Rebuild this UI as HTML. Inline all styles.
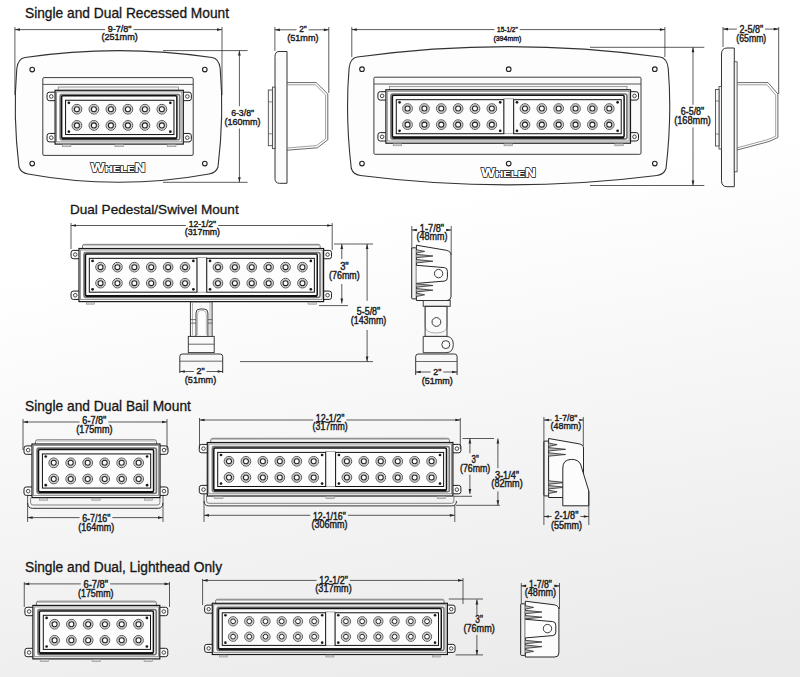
<!DOCTYPE html>
<html><head><meta charset="utf-8"><style>
html,body{margin:0;padding:0;width:800px;height:677px;overflow:hidden;background:#fff;}
</style></head><body>
<svg width="800" height="677" viewBox="0 0 800 677" style="position:absolute;left:0;top:0">
<defs><linearGradient id="bg" gradientUnits="userSpaceOnUse" x1="0" y1="280" x2="93" y2="780"><stop offset="0" stop-color="#ffffff"/><stop offset="1" stop-color="#eaeaea"/></linearGradient></defs>
<rect width="800" height="677" fill="url(#bg)"/>
<g font-family="Liberation Sans, sans-serif">
<text x="25" y="17.9" font-size="13.75" fill="#161616" stroke="#161616" stroke-width="0.3">Single and Dual Recessed Mount</text>
<text x="70" y="214.3" font-size="13.55" fill="#161616" stroke="#161616" stroke-width="0.3">Dual Pedestal/Swivel Mount</text>
<text x="25" y="410.7" font-size="13.76" fill="#161616" stroke="#161616" stroke-width="0.3">Single and Dual Bail Mount</text>
<text x="25" y="572.1" font-size="13.74" fill="#161616" stroke="#161616" stroke-width="0.3">Single and Dual, Lighthead Only</text>
<path d="M25,57.5 Q118.5,43.7 212,57.5 Q219,58.5 220.2,68.5 Q224.2,115.25 218,167 Q216,173 209,174 Q118.5,190.6 28,174 Q21,173 19,167 Q12.8,115.25 16.8,68.5 Q18,58.5 25,57.5 Z" fill="#fdfdfd" stroke="#333" stroke-width="1.1"/>
<circle cx="32.2" cy="69.6" r="2.3" fill="none" stroke="#222" stroke-width="1.1"/>
<circle cx="204.8" cy="69.6" r="2.3" fill="none" stroke="#222" stroke-width="1.1"/>
<circle cx="32.2" cy="163.6" r="2.3" fill="none" stroke="#222" stroke-width="1.1"/>
<circle cx="204.8" cy="163.6" r="2.3" fill="none" stroke="#222" stroke-width="1.1"/>
<rect x="42.8" y="77.6" width="150.4" height="77.8" rx="1.2" fill="#fbfbfb" stroke="#333" stroke-width="0.95"/>
<line x1="42.8" y1="84.4" x2="193.2" y2="84.4" stroke="#444" stroke-width="0.9"/>
<rect x="58.2" y="87" width="120.3" height="3.3" fill="#f4f4f4" stroke="#777" stroke-width="0.7"/>
<path d="M55.1,92.21 L49.37,92.21 Q47.06,92.21 47.06,94.52 L47.06,98.34 Q47.06,100.66 49.37,100.66 L55.1,100.66" fill="#fdfdfd" stroke="#1e1e1e" stroke-width="1"/>
<circle cx="51.28" cy="96.43" r="1.81" fill="none" stroke="#333" stroke-width="0.9"/>
<path d="M183.3,92.21 L189.03,92.21 Q191.34,92.21 191.34,94.52 L191.34,98.34 Q191.34,100.66 189.03,100.66 L183.3,100.66" fill="#fdfdfd" stroke="#1e1e1e" stroke-width="1"/>
<circle cx="187.32" cy="96.43" r="1.81" fill="none" stroke="#333" stroke-width="0.9"/>
<path d="M55.1,133.44 L49.37,133.44 Q47.06,133.44 47.06,135.75 L47.06,139.57 Q47.06,141.89 49.37,141.89 L55.1,141.89" fill="#fdfdfd" stroke="#1e1e1e" stroke-width="1"/>
<circle cx="51.28" cy="137.66" r="1.81" fill="none" stroke="#333" stroke-width="0.9"/>
<path d="M183.3,133.44 L189.03,133.44 Q191.34,133.44 191.34,135.75 L191.34,139.57 Q191.34,141.89 189.03,141.89 L183.3,141.89" fill="#fdfdfd" stroke="#1e1e1e" stroke-width="1"/>
<circle cx="187.32" cy="137.66" r="1.81" fill="none" stroke="#333" stroke-width="0.9"/>
<rect x="55.1" y="90.3" width="128.2" height="53.8" fill="#fcfcfc" stroke="#1a1a1a" stroke-width="1.2"/>
<rect x="56.51" y="91.81" width="125.38" height="50.08" fill="none" stroke="#8c8c8c" stroke-width="0.95"/>
<rect x="62.44" y="144.7" width="8.45" height="2.01" fill="#d2d2d2" stroke="#8a8a8a" stroke-width="0.6"/>
<rect x="114.98" y="144.7" width="8.45" height="2.01" fill="#d2d2d2" stroke="#8a8a8a" stroke-width="0.6"/>
<rect x="167.51" y="144.7" width="8.45" height="2.01" fill="#d2d2d2" stroke="#8a8a8a" stroke-width="0.6"/>
<rect x="60.23" y="94.52" width="119.45" height="45.25" rx="1.51" fill="none" stroke="#777" stroke-width="1.71"/>
<rect x="61.64" y="95.83" width="115.23" height="42.34" rx="1.21" fill="none" stroke="#141414" stroke-width="1.51"/>
<line x1="61.94" y1="138.47" x2="176.56" y2="138.47" stroke="#111" stroke-width="2.11"/>
<rect x="65.56" y="100.26" width="108.39" height="34.29" fill="#fdfdfd" stroke="#121212" stroke-width="1"/>
<circle cx="68.88" cy="102.87" r="1.36" fill="#1a1a1a" stroke="none" stroke-width="0"/>
<circle cx="68.88" cy="131.63" r="1.36" fill="#1a1a1a" stroke="none" stroke-width="0"/>
<circle cx="170.33" cy="102.87" r="1.36" fill="#1a1a1a" stroke="none" stroke-width="0"/>
<circle cx="170.33" cy="131.63" r="1.36" fill="#1a1a1a" stroke="none" stroke-width="0"/>
<circle cx="76.92" cy="109.21" r="4.88" fill="#fff" stroke="#363636" stroke-width="0.85"/>
<circle cx="76.92" cy="109.21" r="3.67" fill="none" stroke="#8a8a8a" stroke-width="0.6"/>
<circle cx="76.92" cy="109.21" r="2.51" fill="#fff" stroke="#202020" stroke-width="1.06"/>
<circle cx="93.91" cy="109.21" r="4.88" fill="#fff" stroke="#363636" stroke-width="0.85"/>
<circle cx="93.91" cy="109.21" r="3.67" fill="none" stroke="#8a8a8a" stroke-width="0.6"/>
<circle cx="93.91" cy="109.21" r="2.51" fill="#fff" stroke="#202020" stroke-width="1.06"/>
<circle cx="110.91" cy="109.21" r="4.88" fill="#fff" stroke="#363636" stroke-width="0.85"/>
<circle cx="110.91" cy="109.21" r="3.67" fill="none" stroke="#8a8a8a" stroke-width="0.6"/>
<circle cx="110.91" cy="109.21" r="2.51" fill="#fff" stroke="#202020" stroke-width="1.06"/>
<circle cx="127.9" cy="109.21" r="4.88" fill="#fff" stroke="#363636" stroke-width="0.85"/>
<circle cx="127.9" cy="109.21" r="3.67" fill="none" stroke="#8a8a8a" stroke-width="0.6"/>
<circle cx="127.9" cy="109.21" r="2.51" fill="#fff" stroke="#202020" stroke-width="1.06"/>
<circle cx="144.89" cy="109.21" r="4.88" fill="#fff" stroke="#363636" stroke-width="0.85"/>
<circle cx="144.89" cy="109.21" r="3.67" fill="none" stroke="#8a8a8a" stroke-width="0.6"/>
<circle cx="144.89" cy="109.21" r="2.51" fill="#fff" stroke="#202020" stroke-width="1.06"/>
<circle cx="161.88" cy="109.21" r="4.88" fill="#fff" stroke="#363636" stroke-width="0.85"/>
<circle cx="161.88" cy="109.21" r="3.67" fill="none" stroke="#8a8a8a" stroke-width="0.6"/>
<circle cx="161.88" cy="109.21" r="2.51" fill="#fff" stroke="#202020" stroke-width="1.06"/>
<circle cx="76.92" cy="125.4" r="4.88" fill="#fff" stroke="#363636" stroke-width="0.85"/>
<circle cx="76.92" cy="125.4" r="3.67" fill="none" stroke="#8a8a8a" stroke-width="0.6"/>
<circle cx="76.92" cy="125.4" r="2.51" fill="#fff" stroke="#202020" stroke-width="1.06"/>
<circle cx="93.91" cy="125.4" r="4.88" fill="#fff" stroke="#363636" stroke-width="0.85"/>
<circle cx="93.91" cy="125.4" r="3.67" fill="none" stroke="#8a8a8a" stroke-width="0.6"/>
<circle cx="93.91" cy="125.4" r="2.51" fill="#fff" stroke="#202020" stroke-width="1.06"/>
<circle cx="110.91" cy="125.4" r="4.88" fill="#fff" stroke="#363636" stroke-width="0.85"/>
<circle cx="110.91" cy="125.4" r="3.67" fill="none" stroke="#8a8a8a" stroke-width="0.6"/>
<circle cx="110.91" cy="125.4" r="2.51" fill="#fff" stroke="#202020" stroke-width="1.06"/>
<circle cx="127.9" cy="125.4" r="4.88" fill="#fff" stroke="#363636" stroke-width="0.85"/>
<circle cx="127.9" cy="125.4" r="3.67" fill="none" stroke="#8a8a8a" stroke-width="0.6"/>
<circle cx="127.9" cy="125.4" r="2.51" fill="#fff" stroke="#202020" stroke-width="1.06"/>
<circle cx="144.89" cy="125.4" r="4.88" fill="#fff" stroke="#363636" stroke-width="0.85"/>
<circle cx="144.89" cy="125.4" r="3.67" fill="none" stroke="#8a8a8a" stroke-width="0.6"/>
<circle cx="144.89" cy="125.4" r="2.51" fill="#fff" stroke="#202020" stroke-width="1.06"/>
<circle cx="161.88" cy="125.4" r="4.88" fill="#fff" stroke="#363636" stroke-width="0.85"/>
<circle cx="161.88" cy="125.4" r="3.67" fill="none" stroke="#8a8a8a" stroke-width="0.6"/>
<circle cx="161.88" cy="125.4" r="2.51" fill="#fff" stroke="#202020" stroke-width="1.06"/>
<text transform="translate(118.2,172) scale(1.22,1)" text-anchor="middle" font-weight="bold" fill="#fff" stroke="#111" stroke-width="1.5" letter-spacing="0.35" paint-order="stroke"><tspan font-size="12">W</tspan><tspan font-size="8.6" dy="-0.3">HELE</tspan><tspan font-size="12" dy="0.3">N</tspan></text>
<text transform="translate(118.2,172) scale(1.22,1)" text-anchor="middle" font-weight="bold" fill="#fff" stroke="none" letter-spacing="0.35"><tspan font-size="12">W</tspan><tspan font-size="8.6" dy="-0.3">HELE</tspan><tspan font-size="12" dy="0.3">N</tspan></text>
<line x1="14.9" y1="27" x2="14.9" y2="95" stroke="#262626" stroke-width="0.75"/>
<line x1="222" y1="27" x2="222" y2="95" stroke="#262626" stroke-width="0.75"/>
<line x1="14.9" y1="29.6" x2="222" y2="29.6" stroke="#262626" stroke-width="0.75"/>
<path d="M14.9,29.6 L19.9,28.25 L19.9,30.95 Z" fill="#262626"/>
<path d="M222,29.6 L217,28.25 L217,30.95 Z" fill="#262626"/>
<rect x="105.1" y="28.1" width="28.3" height="3" fill="url(#bg)"/>
<text transform="translate(119.6,32.4) scale(0.98,1)" text-anchor="middle" font-size="9.2" fill="#1c1c1c" stroke="#1c1c1c" stroke-width="0.42">9-7/8&quot;</text>
<text transform="translate(119.6,39.9) scale(0.99,1)" text-anchor="middle" font-size="9.2" fill="#1c1c1c" stroke="#1c1c1c" stroke-width="0.42">(251mm)</text>
<line x1="163" y1="50.6" x2="247.6" y2="50.6" stroke="#262626" stroke-width="0.75"/>
<line x1="163" y1="182.3" x2="247.6" y2="182.3" stroke="#262626" stroke-width="0.75"/>
<line x1="239.4" y1="50.6" x2="239.4" y2="182.3" stroke="#262626" stroke-width="0.75"/>
<path d="M239.4,50.6 L238.05,55.6 L240.75,55.6 Z" fill="#262626"/>
<path d="M239.4,182.3 L238.05,177.3 L240.75,177.3 Z" fill="#262626"/>
<rect x="237.9" y="106.24" width="3" height="22.26" fill="url(#bg)"/>
<text transform="translate(242.6,116.3) scale(0.89,1)" text-anchor="middle" font-size="9.8" fill="#1c1c1c" stroke="#1c1c1c" stroke-width="0.42">6-3/8&quot;</text>
<text transform="translate(242.6,125) scale(0.92,1)" text-anchor="middle" font-size="9.8" fill="#1c1c1c" stroke="#1c1c1c" stroke-width="0.42">(160mm)</text>
<path d="M287,51.5 L279,51.5 Q275,51.5 275,56.5 L275,178.5 Q275,183.3 279.5,183.3 L287,183.3 Z" fill="#fbfbfb" stroke="#333" stroke-width="1"/>
<rect x="272.4" y="87.1" width="2.6" height="61.5" fill="#f6f6f6" stroke="#444" stroke-width="0.85"/>
<rect x="268.3" y="90" width="4.1" height="55.7" fill="#f8f8f8" stroke="#444" stroke-width="0.85"/>
<line x1="268.3" y1="101.9" x2="272.4" y2="101.9" stroke="#555" stroke-width="0.7"/>
<line x1="268.3" y1="133.8" x2="272.4" y2="133.8" stroke="#555" stroke-width="0.7"/>
<path d="M287,82.6 L316.2,82.6 L327.8,94 L327.8,139.8 L317.3,147.8 L287,150.2" fill="none" stroke="#444" stroke-width="0.8"/>
<path d="M287,84.8 L315.3,84.8 L325.6,95 L325.6,138.8 L316.4,145.6 L287,148" fill="none" stroke="#777" stroke-width="0.7"/>
<line x1="274.9" y1="27" x2="274.9" y2="51" stroke="#262626" stroke-width="0.75"/>
<line x1="328.8" y1="27" x2="328.8" y2="93" stroke="#262626" stroke-width="0.75"/>
<line x1="274.9" y1="29.8" x2="328.8" y2="29.8" stroke="#262626" stroke-width="0.75"/>
<path d="M274.9,29.8 L279.9,28.45 L279.9,31.15 Z" fill="#262626"/>
<path d="M328.8,29.8 L323.8,28.45 L323.8,31.15 Z" fill="#262626"/>
<rect x="296.5" y="28.3" width="12.1" height="3" fill="url(#bg)"/>
<text transform="translate(302.9,32.1) scale(0.86,1)" text-anchor="middle" font-size="9.6" fill="#1c1c1c" stroke="#1c1c1c" stroke-width="0.42">2&quot;</text>
<text transform="translate(302.9,40.8) scale(0.95,1)" text-anchor="middle" font-size="9.6" fill="#1c1c1c" stroke="#1c1c1c" stroke-width="0.42">(51mm)</text>
<path d="M357.3,57 Q508.65,36.2 660,57 Q667,58 668.2,68 Q672.2,115.75 666,168.5 Q664,174.5 657,175.5 Q508.65,194.3 360.3,175.5 Q353.3,174.5 351.3,168.5 Q345.1,115.75 349.1,68 Q350.3,58 357.3,57 Z" fill="#fdfdfd" stroke="#333" stroke-width="1.1"/>
<circle cx="362" cy="69.2" r="2.3" fill="none" stroke="#222" stroke-width="1.1"/>
<circle cx="508.7" cy="69.2" r="2.3" fill="none" stroke="#222" stroke-width="1.1"/>
<circle cx="654.8" cy="69.2" r="2.3" fill="none" stroke="#222" stroke-width="1.1"/>
<circle cx="362" cy="163.6" r="2.3" fill="none" stroke="#222" stroke-width="1.1"/>
<circle cx="508.7" cy="163.6" r="2.3" fill="none" stroke="#222" stroke-width="1.1"/>
<circle cx="654.8" cy="163.6" r="2.3" fill="none" stroke="#222" stroke-width="1.1"/>
<rect x="373.9" y="77.2" width="267.1" height="77.1" rx="1.2" fill="#fbfbfb" stroke="#333" stroke-width="0.95"/>
<line x1="373.9" y1="84" x2="641" y2="84" stroke="#444" stroke-width="0.9"/>
<rect x="389.5" y="86.3" width="237.5" height="3.5" fill="#f4f4f4" stroke="#777" stroke-width="0.7"/>
<path d="M385.9,91.7 L380.21,91.7 Q377.91,91.7 377.91,93.99 L377.91,97.79 Q377.91,100.08 380.21,100.08 L385.9,100.08" fill="#fdfdfd" stroke="#1e1e1e" stroke-width="1"/>
<circle cx="382.11" cy="95.89" r="1.8" fill="none" stroke="#333" stroke-width="0.9"/>
<path d="M630.5,91.7 L636.19,91.7 Q638.49,91.7 638.49,93.99 L638.49,97.79 Q638.49,100.08 636.19,100.08 L630.5,100.08" fill="#fdfdfd" stroke="#1e1e1e" stroke-width="1"/>
<circle cx="634.49" cy="95.89" r="1.8" fill="none" stroke="#333" stroke-width="0.9"/>
<path d="M385.9,132.62 L380.21,132.62 Q377.91,132.62 377.91,134.92 L377.91,138.71 Q377.91,141 380.21,141 L385.9,141" fill="#fdfdfd" stroke="#1e1e1e" stroke-width="1"/>
<circle cx="382.11" cy="136.81" r="1.8" fill="none" stroke="#333" stroke-width="0.9"/>
<path d="M630.5,132.62 L636.19,132.62 Q638.49,132.62 638.49,134.92 L638.49,138.71 Q638.49,141 636.19,141 L630.5,141" fill="#fdfdfd" stroke="#1e1e1e" stroke-width="1"/>
<circle cx="634.49" cy="136.81" r="1.8" fill="none" stroke="#333" stroke-width="0.9"/>
<rect x="385.9" y="89.8" width="244.6" height="53.4" fill="#fcfcfc" stroke="#1a1a1a" stroke-width="1.2"/>
<rect x="387.3" y="91.3" width="241.81" height="49.71" fill="none" stroke="#8c8c8c" stroke-width="0.95"/>
<rect x="393.19" y="143.8" width="8.38" height="2" fill="#d2d2d2" stroke="#8a8a8a" stroke-width="0.6"/>
<rect x="504.01" y="143.8" width="8.38" height="2" fill="#d2d2d2" stroke="#8a8a8a" stroke-width="0.6"/>
<rect x="614.83" y="143.8" width="8.38" height="2" fill="#d2d2d2" stroke="#8a8a8a" stroke-width="0.6"/>
<rect x="390.99" y="93.99" width="235.92" height="44.92" rx="1.5" fill="none" stroke="#777" stroke-width="1.7"/>
<rect x="392.39" y="95.29" width="231.72" height="42.02" rx="1.2" fill="none" stroke="#141414" stroke-width="1.5"/>
<line x1="392.69" y1="137.61" x2="623.81" y2="137.61" stroke="#111" stroke-width="2.1"/>
<rect x="503.81" y="98.78" width="9.88" height="34.93" fill="#fbfbfb" stroke="#888" stroke-width="0.7"/>
<rect x="396.28" y="99.68" width="107.53" height="34.04" fill="#fdfdfd" stroke="#121212" stroke-width="1"/>
<circle cx="399.57" cy="102.28" r="1.35" fill="#1a1a1a" stroke="none" stroke-width="0"/>
<circle cx="399.57" cy="130.82" r="1.35" fill="#1a1a1a" stroke="none" stroke-width="0"/>
<circle cx="500.21" cy="102.28" r="1.35" fill="#1a1a1a" stroke="none" stroke-width="0"/>
<circle cx="500.21" cy="130.82" r="1.35" fill="#1a1a1a" stroke="none" stroke-width="0"/>
<circle cx="407.56" cy="108.56" r="4.84" fill="#fff" stroke="#363636" stroke-width="0.85"/>
<circle cx="407.56" cy="108.56" r="3.64" fill="none" stroke="#8a8a8a" stroke-width="0.6"/>
<circle cx="407.56" cy="108.56" r="2.5" fill="#fff" stroke="#202020" stroke-width="1.05"/>
<circle cx="424.41" cy="108.56" r="4.84" fill="#fff" stroke="#363636" stroke-width="0.85"/>
<circle cx="424.41" cy="108.56" r="3.64" fill="none" stroke="#8a8a8a" stroke-width="0.6"/>
<circle cx="424.41" cy="108.56" r="2.5" fill="#fff" stroke="#202020" stroke-width="1.05"/>
<circle cx="441.27" cy="108.56" r="4.84" fill="#fff" stroke="#363636" stroke-width="0.85"/>
<circle cx="441.27" cy="108.56" r="3.64" fill="none" stroke="#8a8a8a" stroke-width="0.6"/>
<circle cx="441.27" cy="108.56" r="2.5" fill="#fff" stroke="#202020" stroke-width="1.05"/>
<circle cx="458.12" cy="108.56" r="4.84" fill="#fff" stroke="#363636" stroke-width="0.85"/>
<circle cx="458.12" cy="108.56" r="3.64" fill="none" stroke="#8a8a8a" stroke-width="0.6"/>
<circle cx="458.12" cy="108.56" r="2.5" fill="#fff" stroke="#202020" stroke-width="1.05"/>
<circle cx="474.98" cy="108.56" r="4.84" fill="#fff" stroke="#363636" stroke-width="0.85"/>
<circle cx="474.98" cy="108.56" r="3.64" fill="none" stroke="#8a8a8a" stroke-width="0.6"/>
<circle cx="474.98" cy="108.56" r="2.5" fill="#fff" stroke="#202020" stroke-width="1.05"/>
<circle cx="491.83" cy="108.56" r="4.84" fill="#fff" stroke="#363636" stroke-width="0.85"/>
<circle cx="491.83" cy="108.56" r="3.64" fill="none" stroke="#8a8a8a" stroke-width="0.6"/>
<circle cx="491.83" cy="108.56" r="2.5" fill="#fff" stroke="#202020" stroke-width="1.05"/>
<circle cx="407.56" cy="124.63" r="4.84" fill="#fff" stroke="#363636" stroke-width="0.85"/>
<circle cx="407.56" cy="124.63" r="3.64" fill="none" stroke="#8a8a8a" stroke-width="0.6"/>
<circle cx="407.56" cy="124.63" r="2.5" fill="#fff" stroke="#202020" stroke-width="1.05"/>
<circle cx="424.41" cy="124.63" r="4.84" fill="#fff" stroke="#363636" stroke-width="0.85"/>
<circle cx="424.41" cy="124.63" r="3.64" fill="none" stroke="#8a8a8a" stroke-width="0.6"/>
<circle cx="424.41" cy="124.63" r="2.5" fill="#fff" stroke="#202020" stroke-width="1.05"/>
<circle cx="441.27" cy="124.63" r="4.84" fill="#fff" stroke="#363636" stroke-width="0.85"/>
<circle cx="441.27" cy="124.63" r="3.64" fill="none" stroke="#8a8a8a" stroke-width="0.6"/>
<circle cx="441.27" cy="124.63" r="2.5" fill="#fff" stroke="#202020" stroke-width="1.05"/>
<circle cx="458.12" cy="124.63" r="4.84" fill="#fff" stroke="#363636" stroke-width="0.85"/>
<circle cx="458.12" cy="124.63" r="3.64" fill="none" stroke="#8a8a8a" stroke-width="0.6"/>
<circle cx="458.12" cy="124.63" r="2.5" fill="#fff" stroke="#202020" stroke-width="1.05"/>
<circle cx="474.98" cy="124.63" r="4.84" fill="#fff" stroke="#363636" stroke-width="0.85"/>
<circle cx="474.98" cy="124.63" r="3.64" fill="none" stroke="#8a8a8a" stroke-width="0.6"/>
<circle cx="474.98" cy="124.63" r="2.5" fill="#fff" stroke="#202020" stroke-width="1.05"/>
<circle cx="491.83" cy="124.63" r="4.84" fill="#fff" stroke="#363636" stroke-width="0.85"/>
<circle cx="491.83" cy="124.63" r="3.64" fill="none" stroke="#8a8a8a" stroke-width="0.6"/>
<circle cx="491.83" cy="124.63" r="2.5" fill="#fff" stroke="#202020" stroke-width="1.05"/>
<rect x="513.69" y="99.68" width="107.53" height="34.04" fill="#fdfdfd" stroke="#121212" stroke-width="1"/>
<circle cx="516.98" cy="102.28" r="1.35" fill="#1a1a1a" stroke="none" stroke-width="0"/>
<circle cx="516.98" cy="130.82" r="1.35" fill="#1a1a1a" stroke="none" stroke-width="0"/>
<circle cx="617.62" cy="102.28" r="1.35" fill="#1a1a1a" stroke="none" stroke-width="0"/>
<circle cx="617.62" cy="130.82" r="1.35" fill="#1a1a1a" stroke="none" stroke-width="0"/>
<circle cx="524.97" cy="108.56" r="4.84" fill="#fff" stroke="#363636" stroke-width="0.85"/>
<circle cx="524.97" cy="108.56" r="3.64" fill="none" stroke="#8a8a8a" stroke-width="0.6"/>
<circle cx="524.97" cy="108.56" r="2.5" fill="#fff" stroke="#202020" stroke-width="1.05"/>
<circle cx="541.82" cy="108.56" r="4.84" fill="#fff" stroke="#363636" stroke-width="0.85"/>
<circle cx="541.82" cy="108.56" r="3.64" fill="none" stroke="#8a8a8a" stroke-width="0.6"/>
<circle cx="541.82" cy="108.56" r="2.5" fill="#fff" stroke="#202020" stroke-width="1.05"/>
<circle cx="558.68" cy="108.56" r="4.84" fill="#fff" stroke="#363636" stroke-width="0.85"/>
<circle cx="558.68" cy="108.56" r="3.64" fill="none" stroke="#8a8a8a" stroke-width="0.6"/>
<circle cx="558.68" cy="108.56" r="2.5" fill="#fff" stroke="#202020" stroke-width="1.05"/>
<circle cx="575.53" cy="108.56" r="4.84" fill="#fff" stroke="#363636" stroke-width="0.85"/>
<circle cx="575.53" cy="108.56" r="3.64" fill="none" stroke="#8a8a8a" stroke-width="0.6"/>
<circle cx="575.53" cy="108.56" r="2.5" fill="#fff" stroke="#202020" stroke-width="1.05"/>
<circle cx="592.39" cy="108.56" r="4.84" fill="#fff" stroke="#363636" stroke-width="0.85"/>
<circle cx="592.39" cy="108.56" r="3.64" fill="none" stroke="#8a8a8a" stroke-width="0.6"/>
<circle cx="592.39" cy="108.56" r="2.5" fill="#fff" stroke="#202020" stroke-width="1.05"/>
<circle cx="609.24" cy="108.56" r="4.84" fill="#fff" stroke="#363636" stroke-width="0.85"/>
<circle cx="609.24" cy="108.56" r="3.64" fill="none" stroke="#8a8a8a" stroke-width="0.6"/>
<circle cx="609.24" cy="108.56" r="2.5" fill="#fff" stroke="#202020" stroke-width="1.05"/>
<circle cx="524.97" cy="124.63" r="4.84" fill="#fff" stroke="#363636" stroke-width="0.85"/>
<circle cx="524.97" cy="124.63" r="3.64" fill="none" stroke="#8a8a8a" stroke-width="0.6"/>
<circle cx="524.97" cy="124.63" r="2.5" fill="#fff" stroke="#202020" stroke-width="1.05"/>
<circle cx="541.82" cy="124.63" r="4.84" fill="#fff" stroke="#363636" stroke-width="0.85"/>
<circle cx="541.82" cy="124.63" r="3.64" fill="none" stroke="#8a8a8a" stroke-width="0.6"/>
<circle cx="541.82" cy="124.63" r="2.5" fill="#fff" stroke="#202020" stroke-width="1.05"/>
<circle cx="558.68" cy="124.63" r="4.84" fill="#fff" stroke="#363636" stroke-width="0.85"/>
<circle cx="558.68" cy="124.63" r="3.64" fill="none" stroke="#8a8a8a" stroke-width="0.6"/>
<circle cx="558.68" cy="124.63" r="2.5" fill="#fff" stroke="#202020" stroke-width="1.05"/>
<circle cx="575.53" cy="124.63" r="4.84" fill="#fff" stroke="#363636" stroke-width="0.85"/>
<circle cx="575.53" cy="124.63" r="3.64" fill="none" stroke="#8a8a8a" stroke-width="0.6"/>
<circle cx="575.53" cy="124.63" r="2.5" fill="#fff" stroke="#202020" stroke-width="1.05"/>
<circle cx="592.39" cy="124.63" r="4.84" fill="#fff" stroke="#363636" stroke-width="0.85"/>
<circle cx="592.39" cy="124.63" r="3.64" fill="none" stroke="#8a8a8a" stroke-width="0.6"/>
<circle cx="592.39" cy="124.63" r="2.5" fill="#fff" stroke="#202020" stroke-width="1.05"/>
<circle cx="609.24" cy="124.63" r="4.84" fill="#fff" stroke="#363636" stroke-width="0.85"/>
<circle cx="609.24" cy="124.63" r="3.64" fill="none" stroke="#8a8a8a" stroke-width="0.6"/>
<circle cx="609.24" cy="124.63" r="2.5" fill="#fff" stroke="#202020" stroke-width="1.05"/>
<text transform="translate(508.7,176.8) scale(1.22,1)" text-anchor="middle" font-weight="bold" fill="#fff" stroke="#111" stroke-width="1.5" letter-spacing="0.35" paint-order="stroke"><tspan font-size="12">W</tspan><tspan font-size="8.6" dy="-0.3">HELE</tspan><tspan font-size="12" dy="0.3">N</tspan></text>
<text transform="translate(508.7,176.8) scale(1.22,1)" text-anchor="middle" font-weight="bold" fill="#fff" stroke="none" letter-spacing="0.35"><tspan font-size="12">W</tspan><tspan font-size="8.6" dy="-0.3">HELE</tspan><tspan font-size="12" dy="0.3">N</tspan></text>
<line x1="351.8" y1="27" x2="351.8" y2="57" stroke="#262626" stroke-width="0.75"/>
<line x1="664.9" y1="27" x2="664.9" y2="57" stroke="#262626" stroke-width="0.75"/>
<line x1="351.8" y1="29.6" x2="664.9" y2="29.6" stroke="#262626" stroke-width="0.75"/>
<path d="M351.8,29.6 L356.8,28.25 L356.8,30.95 Z" fill="#262626"/>
<path d="M664.9,29.6 L659.9,28.25 L659.9,30.95 Z" fill="#262626"/>
<rect x="494.4" y="28.1" width="25.3" height="3" fill="url(#bg)"/>
<text transform="translate(507.4,32.4) scale(0.83,1)" text-anchor="middle" font-size="7.8" fill="#1c1c1c" stroke="#1c1c1c" stroke-width="0.42">15-1/2&quot;</text>
<text transform="translate(507.4,41.4) scale(0.9,1)" text-anchor="middle" font-size="7.8" fill="#1c1c1c" stroke="#1c1c1c" stroke-width="0.42">(394mm)</text>
<line x1="590" y1="47.3" x2="704.3" y2="47.3" stroke="#262626" stroke-width="0.75"/>
<line x1="590" y1="185.5" x2="704.3" y2="185.5" stroke="#262626" stroke-width="0.75"/>
<line x1="693" y1="47.3" x2="693" y2="185.5" stroke="#262626" stroke-width="0.75"/>
<path d="M693,47.3 L691.65,52.3 L694.35,52.3 Z" fill="#262626"/>
<path d="M693,185.5 L691.65,180.5 L694.35,180.5 Z" fill="#262626"/>
<rect x="691.5" y="104.8" width="3" height="22.6" fill="url(#bg)"/>
<text transform="translate(692.5,115) scale(0.89,1)" text-anchor="middle" font-size="10" fill="#1c1c1c" stroke="#1c1c1c" stroke-width="0.42">6-5/8&quot;</text>
<text transform="translate(692.5,123.9) scale(0.92,1)" text-anchor="middle" font-size="10" fill="#1c1c1c" stroke="#1c1c1c" stroke-width="0.42">(168mm)</text>
<path d="M734.3,48 L727,48 Q721.5,48 721.5,54 L721.5,180.5 Q721.5,186.7 727,186.7 L734.3,186.7 Z" fill="#fbfbfb" stroke="#333" stroke-width="1"/>
<rect x="734.3" y="61.8" width="2.8" height="110" fill="#f6f6f6" stroke="#444" stroke-width="0.85"/>
<rect x="719" y="86.5" width="2.5" height="62.5" fill="#f6f6f6" stroke="#444" stroke-width="0.85"/>
<rect x="715.5" y="89.5" width="3.5" height="56.5" fill="#f8f8f8" stroke="#444" stroke-width="0.85"/>
<line x1="715.5" y1="101" x2="719" y2="101" stroke="#555" stroke-width="0.7"/>
<line x1="715.5" y1="134" x2="719" y2="134" stroke="#555" stroke-width="0.7"/>
<path d="M737.1,82.6 L768,82.6 L777.9,94 L777.9,137.5 L769,141.5 L737.1,150" fill="none" stroke="#444" stroke-width="0.8"/>
<path d="M737.1,84.8 L767,84.8 L775.7,95 L775.7,136.3 L768,139.5 L737.1,147.8" fill="none" stroke="#777" stroke-width="0.7"/>
<line x1="723" y1="27" x2="723" y2="47" stroke="#262626" stroke-width="0.75"/>
<line x1="778.7" y1="27" x2="778.7" y2="94" stroke="#262626" stroke-width="0.75"/>
<line x1="723" y1="29.1" x2="778.7" y2="29.1" stroke="#262626" stroke-width="0.75"/>
<path d="M723,29.1 L728,27.75 L728,30.45 Z" fill="#262626"/>
<path d="M778.7,29.1 L773.7,27.75 L773.7,30.45 Z" fill="#262626"/>
<rect x="736.85" y="27.6" width="28.2" height="3" fill="url(#bg)"/>
<text transform="translate(751.3,33.3) scale(0.9,1)" text-anchor="middle" font-size="10" fill="#1c1c1c" stroke="#1c1c1c" stroke-width="0.42">2-5/8&quot;</text>
<text transform="translate(751.3,42.2) scale(0.87,1)" text-anchor="middle" font-size="10" fill="#1c1c1c" stroke="#1c1c1c" stroke-width="0.42">(65mm)</text>
<path d="M82.47,248.5 L82.47,246.12 Q82.47,244.33 84.46,244.33 L318.14,244.33 Q320.13,244.33 320.13,246.12 L320.13,248.5" fill="#fdfdfd" stroke="#555" stroke-width="0.8"/>
<line x1="83.27" y1="245.62" x2="319.33" y2="245.62" stroke="#a0a0a0" stroke-width="0.7"/>
<path d="M79,250.39 L73.34,250.39 Q71.06,250.39 71.06,252.67 L71.06,256.44 Q71.06,258.72 73.34,258.72 L79,258.72" fill="#fdfdfd" stroke="#1e1e1e" stroke-width="1"/>
<circle cx="75.23" cy="254.55" r="1.79" fill="none" stroke="#333" stroke-width="0.9"/>
<path d="M323.6,250.39 L329.26,250.39 Q331.54,250.39 331.54,252.67 L331.54,256.44 Q331.54,258.72 329.26,258.72 L323.6,258.72" fill="#fdfdfd" stroke="#1e1e1e" stroke-width="1"/>
<circle cx="327.57" cy="254.55" r="1.79" fill="none" stroke="#333" stroke-width="0.9"/>
<path d="M79,291.08 L73.34,291.08 Q71.06,291.08 71.06,293.36 L71.06,297.13 Q71.06,299.42 73.34,299.42 L79,299.42" fill="#fdfdfd" stroke="#1e1e1e" stroke-width="1"/>
<circle cx="75.23" cy="295.25" r="1.79" fill="none" stroke="#333" stroke-width="0.9"/>
<path d="M323.6,291.08 L329.26,291.08 Q331.54,291.08 331.54,293.36 L331.54,297.13 Q331.54,299.42 329.26,299.42 L323.6,299.42" fill="#fdfdfd" stroke="#1e1e1e" stroke-width="1"/>
<circle cx="327.57" cy="295.25" r="1.79" fill="none" stroke="#333" stroke-width="0.9"/>
<rect x="79" y="248.5" width="244.6" height="53.1" fill="#fcfcfc" stroke="#1a1a1a" stroke-width="1.2"/>
<rect x="80.39" y="249.99" width="241.82" height="49.43" fill="none" stroke="#8c8c8c" stroke-width="0.95"/>
<rect x="86.25" y="302.2" width="8.34" height="1.98" fill="#d2d2d2" stroke="#8a8a8a" stroke-width="0.6"/>
<rect x="197.13" y="302.2" width="8.34" height="1.98" fill="#d2d2d2" stroke="#8a8a8a" stroke-width="0.6"/>
<rect x="308.02" y="302.2" width="8.34" height="1.98" fill="#d2d2d2" stroke="#8a8a8a" stroke-width="0.6"/>
<rect x="84.06" y="252.67" width="235.97" height="44.66" rx="1.49" fill="none" stroke="#777" stroke-width="1.69"/>
<rect x="85.45" y="253.96" width="231.8" height="41.79" rx="1.19" fill="none" stroke="#141414" stroke-width="1.49"/>
<line x1="85.75" y1="296.04" x2="316.95" y2="296.04" stroke="#111" stroke-width="2.08"/>
<rect x="196.93" y="257.43" width="9.83" height="34.74" fill="#fbfbfb" stroke="#888" stroke-width="0.7"/>
<rect x="89.32" y="258.33" width="107.61" height="33.85" fill="#fdfdfd" stroke="#121212" stroke-width="1"/>
<circle cx="92.6" cy="260.91" r="1.34" fill="#1a1a1a" stroke="none" stroke-width="0"/>
<circle cx="92.6" cy="289.29" r="1.34" fill="#1a1a1a" stroke="none" stroke-width="0"/>
<circle cx="193.36" cy="260.91" r="1.34" fill="#1a1a1a" stroke="none" stroke-width="0"/>
<circle cx="193.36" cy="289.29" r="1.34" fill="#1a1a1a" stroke="none" stroke-width="0"/>
<circle cx="100.54" cy="267.16" r="4.81" fill="#fff" stroke="#363636" stroke-width="0.84"/>
<circle cx="100.54" cy="267.16" r="3.62" fill="none" stroke="#8a8a8a" stroke-width="0.6"/>
<circle cx="100.54" cy="267.16" r="2.48" fill="#fff" stroke="#202020" stroke-width="1.04"/>
<circle cx="117.43" cy="267.16" r="4.81" fill="#fff" stroke="#363636" stroke-width="0.84"/>
<circle cx="117.43" cy="267.16" r="3.62" fill="none" stroke="#8a8a8a" stroke-width="0.6"/>
<circle cx="117.43" cy="267.16" r="2.48" fill="#fff" stroke="#202020" stroke-width="1.04"/>
<circle cx="134.33" cy="267.16" r="4.81" fill="#fff" stroke="#363636" stroke-width="0.84"/>
<circle cx="134.33" cy="267.16" r="3.62" fill="none" stroke="#8a8a8a" stroke-width="0.6"/>
<circle cx="134.33" cy="267.16" r="2.48" fill="#fff" stroke="#202020" stroke-width="1.04"/>
<circle cx="151.23" cy="267.16" r="4.81" fill="#fff" stroke="#363636" stroke-width="0.84"/>
<circle cx="151.23" cy="267.16" r="3.62" fill="none" stroke="#8a8a8a" stroke-width="0.6"/>
<circle cx="151.23" cy="267.16" r="2.48" fill="#fff" stroke="#202020" stroke-width="1.04"/>
<circle cx="168.13" cy="267.16" r="4.81" fill="#fff" stroke="#363636" stroke-width="0.84"/>
<circle cx="168.13" cy="267.16" r="3.62" fill="none" stroke="#8a8a8a" stroke-width="0.6"/>
<circle cx="168.13" cy="267.16" r="2.48" fill="#fff" stroke="#202020" stroke-width="1.04"/>
<circle cx="185.02" cy="267.16" r="4.81" fill="#fff" stroke="#363636" stroke-width="0.84"/>
<circle cx="185.02" cy="267.16" r="3.62" fill="none" stroke="#8a8a8a" stroke-width="0.6"/>
<circle cx="185.02" cy="267.16" r="2.48" fill="#fff" stroke="#202020" stroke-width="1.04"/>
<circle cx="100.54" cy="283.14" r="4.81" fill="#fff" stroke="#363636" stroke-width="0.84"/>
<circle cx="100.54" cy="283.14" r="3.62" fill="none" stroke="#8a8a8a" stroke-width="0.6"/>
<circle cx="100.54" cy="283.14" r="2.48" fill="#fff" stroke="#202020" stroke-width="1.04"/>
<circle cx="117.43" cy="283.14" r="4.81" fill="#fff" stroke="#363636" stroke-width="0.84"/>
<circle cx="117.43" cy="283.14" r="3.62" fill="none" stroke="#8a8a8a" stroke-width="0.6"/>
<circle cx="117.43" cy="283.14" r="2.48" fill="#fff" stroke="#202020" stroke-width="1.04"/>
<circle cx="134.33" cy="283.14" r="4.81" fill="#fff" stroke="#363636" stroke-width="0.84"/>
<circle cx="134.33" cy="283.14" r="3.62" fill="none" stroke="#8a8a8a" stroke-width="0.6"/>
<circle cx="134.33" cy="283.14" r="2.48" fill="#fff" stroke="#202020" stroke-width="1.04"/>
<circle cx="151.23" cy="283.14" r="4.81" fill="#fff" stroke="#363636" stroke-width="0.84"/>
<circle cx="151.23" cy="283.14" r="3.62" fill="none" stroke="#8a8a8a" stroke-width="0.6"/>
<circle cx="151.23" cy="283.14" r="2.48" fill="#fff" stroke="#202020" stroke-width="1.04"/>
<circle cx="168.13" cy="283.14" r="4.81" fill="#fff" stroke="#363636" stroke-width="0.84"/>
<circle cx="168.13" cy="283.14" r="3.62" fill="none" stroke="#8a8a8a" stroke-width="0.6"/>
<circle cx="168.13" cy="283.14" r="2.48" fill="#fff" stroke="#202020" stroke-width="1.04"/>
<circle cx="185.02" cy="283.14" r="4.81" fill="#fff" stroke="#363636" stroke-width="0.84"/>
<circle cx="185.02" cy="283.14" r="3.62" fill="none" stroke="#8a8a8a" stroke-width="0.6"/>
<circle cx="185.02" cy="283.14" r="2.48" fill="#fff" stroke="#202020" stroke-width="1.04"/>
<rect x="206.76" y="258.33" width="107.61" height="33.85" fill="#fdfdfd" stroke="#121212" stroke-width="1"/>
<circle cx="210.03" cy="260.91" r="1.34" fill="#1a1a1a" stroke="none" stroke-width="0"/>
<circle cx="210.03" cy="289.29" r="1.34" fill="#1a1a1a" stroke="none" stroke-width="0"/>
<circle cx="310.8" cy="260.91" r="1.34" fill="#1a1a1a" stroke="none" stroke-width="0"/>
<circle cx="310.8" cy="289.29" r="1.34" fill="#1a1a1a" stroke="none" stroke-width="0"/>
<circle cx="217.97" cy="267.16" r="4.81" fill="#fff" stroke="#363636" stroke-width="0.84"/>
<circle cx="217.97" cy="267.16" r="3.62" fill="none" stroke="#8a8a8a" stroke-width="0.6"/>
<circle cx="217.97" cy="267.16" r="2.48" fill="#fff" stroke="#202020" stroke-width="1.04"/>
<circle cx="234.87" cy="267.16" r="4.81" fill="#fff" stroke="#363636" stroke-width="0.84"/>
<circle cx="234.87" cy="267.16" r="3.62" fill="none" stroke="#8a8a8a" stroke-width="0.6"/>
<circle cx="234.87" cy="267.16" r="2.48" fill="#fff" stroke="#202020" stroke-width="1.04"/>
<circle cx="251.77" cy="267.16" r="4.81" fill="#fff" stroke="#363636" stroke-width="0.84"/>
<circle cx="251.77" cy="267.16" r="3.62" fill="none" stroke="#8a8a8a" stroke-width="0.6"/>
<circle cx="251.77" cy="267.16" r="2.48" fill="#fff" stroke="#202020" stroke-width="1.04"/>
<circle cx="268.67" cy="267.16" r="4.81" fill="#fff" stroke="#363636" stroke-width="0.84"/>
<circle cx="268.67" cy="267.16" r="3.62" fill="none" stroke="#8a8a8a" stroke-width="0.6"/>
<circle cx="268.67" cy="267.16" r="2.48" fill="#fff" stroke="#202020" stroke-width="1.04"/>
<circle cx="285.56" cy="267.16" r="4.81" fill="#fff" stroke="#363636" stroke-width="0.84"/>
<circle cx="285.56" cy="267.16" r="3.62" fill="none" stroke="#8a8a8a" stroke-width="0.6"/>
<circle cx="285.56" cy="267.16" r="2.48" fill="#fff" stroke="#202020" stroke-width="1.04"/>
<circle cx="302.46" cy="267.16" r="4.81" fill="#fff" stroke="#363636" stroke-width="0.84"/>
<circle cx="302.46" cy="267.16" r="3.62" fill="none" stroke="#8a8a8a" stroke-width="0.6"/>
<circle cx="302.46" cy="267.16" r="2.48" fill="#fff" stroke="#202020" stroke-width="1.04"/>
<circle cx="217.97" cy="283.14" r="4.81" fill="#fff" stroke="#363636" stroke-width="0.84"/>
<circle cx="217.97" cy="283.14" r="3.62" fill="none" stroke="#8a8a8a" stroke-width="0.6"/>
<circle cx="217.97" cy="283.14" r="2.48" fill="#fff" stroke="#202020" stroke-width="1.04"/>
<circle cx="234.87" cy="283.14" r="4.81" fill="#fff" stroke="#363636" stroke-width="0.84"/>
<circle cx="234.87" cy="283.14" r="3.62" fill="none" stroke="#8a8a8a" stroke-width="0.6"/>
<circle cx="234.87" cy="283.14" r="2.48" fill="#fff" stroke="#202020" stroke-width="1.04"/>
<circle cx="251.77" cy="283.14" r="4.81" fill="#fff" stroke="#363636" stroke-width="0.84"/>
<circle cx="251.77" cy="283.14" r="3.62" fill="none" stroke="#8a8a8a" stroke-width="0.6"/>
<circle cx="251.77" cy="283.14" r="2.48" fill="#fff" stroke="#202020" stroke-width="1.04"/>
<circle cx="268.67" cy="283.14" r="4.81" fill="#fff" stroke="#363636" stroke-width="0.84"/>
<circle cx="268.67" cy="283.14" r="3.62" fill="none" stroke="#8a8a8a" stroke-width="0.6"/>
<circle cx="268.67" cy="283.14" r="2.48" fill="#fff" stroke="#202020" stroke-width="1.04"/>
<circle cx="285.56" cy="283.14" r="4.81" fill="#fff" stroke="#363636" stroke-width="0.84"/>
<circle cx="285.56" cy="283.14" r="3.62" fill="none" stroke="#8a8a8a" stroke-width="0.6"/>
<circle cx="285.56" cy="283.14" r="2.48" fill="#fff" stroke="#202020" stroke-width="1.04"/>
<circle cx="302.46" cy="283.14" r="4.81" fill="#fff" stroke="#363636" stroke-width="0.84"/>
<circle cx="302.46" cy="283.14" r="3.62" fill="none" stroke="#8a8a8a" stroke-width="0.6"/>
<circle cx="302.46" cy="283.14" r="2.48" fill="#fff" stroke="#202020" stroke-width="1.04"/>
<rect x="190.4" y="302" width="21.7" height="34.4" fill="#fafafa" stroke="#333" stroke-width="0.95"/>
<line x1="192.5" y1="303" x2="192.5" y2="335" stroke="#888" stroke-width="0.6"/>
<line x1="210" y1="303" x2="210" y2="335" stroke="#888" stroke-width="0.6"/>
<path d="M196,336 L196,313 Q196,309 200,309 L204,309 Q207.9,309 207.9,313 L207.9,336" fill="#fff" stroke="#333" stroke-width="0.95"/>
<path d="M197.6,335 L197.6,314 Q197.6,310.6 200.6,310.6 L203.3,310.6 Q206.3,310.6 206.3,314 L206.3,335" fill="none" stroke="#888" stroke-width="0.6"/>
<line x1="190.4" y1="319.6" x2="196" y2="319.6" stroke="#444" stroke-width="0.7"/>
<line x1="207.9" y1="319.6" x2="212.1" y2="319.6" stroke="#444" stroke-width="0.7"/>
<line x1="190.4" y1="323.1" x2="196" y2="323.1" stroke="#444" stroke-width="0.7"/>
<line x1="207.9" y1="323.1" x2="212.1" y2="323.1" stroke="#444" stroke-width="0.7"/>
<rect x="188.3" y="336.4" width="25.9" height="16.2" fill="#fafafa" stroke="#333" stroke-width="0.95"/>
<line x1="188.3" y1="344.2" x2="214.2" y2="344.2" stroke="#444" stroke-width="0.8"/>
<path d="M179.8,373 L179.8,356.5 Q179.8,354 182.3,354 L220.2,354 Q222.7,354 222.7,356.5 L222.7,373" fill="#f8f8f8" stroke="#333" stroke-width="1"/>
<line x1="179.8" y1="361.2" x2="222.7" y2="361.2" stroke="#444" stroke-width="0.8"/>
<line x1="71" y1="223" x2="71" y2="249" stroke="#262626" stroke-width="0.75"/>
<line x1="332.2" y1="223" x2="332.2" y2="250" stroke="#262626" stroke-width="0.75"/>
<line x1="71" y1="225.5" x2="332.2" y2="225.5" stroke="#262626" stroke-width="0.75"/>
<path d="M71,225.5 L76,224.15 L76,226.85 Z" fill="#262626"/>
<path d="M332.2,225.5 L327.2,224.15 L327.2,226.85 Z" fill="#262626"/>
<rect x="185.9" y="224" width="32.3" height="3" fill="url(#bg)"/>
<text transform="translate(202.4,227) scale(0.94,1)" text-anchor="middle" font-size="9.2" fill="#1c1c1c" stroke="#1c1c1c" stroke-width="0.42">12-1/2&quot;</text>
<text transform="translate(202.4,235.3) scale(0.96,1)" text-anchor="middle" font-size="9.2" fill="#1c1c1c" stroke="#1c1c1c" stroke-width="0.42">(317mm)</text>
<line x1="334" y1="244" x2="373" y2="244" stroke="#262626" stroke-width="0.75"/>
<line x1="319" y1="305.6" x2="348" y2="305.6" stroke="#262626" stroke-width="0.75"/>
<line x1="240" y1="361.6" x2="373" y2="361.6" stroke="#262626" stroke-width="0.75"/>
<line x1="341.8" y1="244" x2="341.8" y2="303.5" stroke="#262626" stroke-width="0.75"/>
<path d="M341.8,244 L340.45,249 L343.15,249 Z" fill="#262626"/>
<path d="M341.8,303.5 L340.45,298.5 L343.15,298.5 Z" fill="#262626"/>
<rect x="340.3" y="259" width="3" height="25" fill="url(#bg)"/>
<text transform="translate(344.4,270) scale(0.94,1)" text-anchor="middle" font-size="10" fill="#1c1c1c" stroke="#1c1c1c" stroke-width="0.42">3&quot;</text>
<text transform="translate(344.4,278.8) scale(0.89,1)" text-anchor="middle" font-size="10" fill="#1c1c1c" stroke="#1c1c1c" stroke-width="0.42">(76mm)</text>
<line x1="367.1" y1="244" x2="367.1" y2="361.6" stroke="#262626" stroke-width="0.75"/>
<path d="M367.1,244 L365.75,249 L368.45,249 Z" fill="#262626"/>
<path d="M367.1,361.6 L365.75,356.6 L368.45,356.6 Z" fill="#262626"/>
<rect x="365.6" y="300.8" width="3" height="29.2" fill="url(#bg)"/>
<text transform="translate(368.5,314.8) scale(0.89,1)" text-anchor="middle" font-size="10" fill="#1c1c1c" stroke="#1c1c1c" stroke-width="0.42">5-5/8&quot;</text>
<text transform="translate(368.5,324.2) scale(0.89,1)" text-anchor="middle" font-size="10" fill="#1c1c1c" stroke="#1c1c1c" stroke-width="0.42">(143mm)</text>
<line x1="179.8" y1="371.5" x2="222.7" y2="371.5" stroke="#262626" stroke-width="0.75"/>
<path d="M179.8,371.5 L184.8,370.15 L184.8,372.85 Z" fill="#262626"/>
<path d="M222.7,371.5 L217.7,370.15 L217.7,372.85 Z" fill="#262626"/>
<rect x="193.8" y="370" width="12.7" height="3" fill="url(#bg)"/>
<text transform="translate(200.5,373.7) scale(0.93,1)" text-anchor="middle" font-size="9.6" fill="#1c1c1c" stroke="#1c1c1c" stroke-width="0.42">2&quot;</text>
<text transform="translate(200.5,383) scale(0.95,1)" text-anchor="middle" font-size="9.6" fill="#1c1c1c" stroke="#1c1c1c" stroke-width="0.42">(51mm)</text>
<rect x="411.7" y="247.8" width="4.7" height="51.1" rx="0.8" fill="#f2f2f2" stroke="#222" stroke-width="1"/>
<path d="M416.4,245.2 L446.4,250.3 Q451,251.3 451,255 L451,296.5 Q451,300.5 447,300.5 L416.4,300.5 Z" fill="#fcfcfc" stroke="#262626" stroke-width="1"/>
<path d="M416.4,249.7 L424.65,251.4 L416.4,253.1" fill="#b8b8b8" stroke="#222" stroke-width="0.75"/>
<path d="M416.4,254.3 L432.9,256 L416.4,257.7" fill="#b8b8b8" stroke="#222" stroke-width="0.75"/>
<path d="M416.4,259.5 L432.9,261.2 L416.4,262.9" fill="#b8b8b8" stroke="#222" stroke-width="0.75"/>
<path d="M416.4,283.8 L432.9,285.5 L416.4,287.2" fill="#b8b8b8" stroke="#222" stroke-width="0.75"/>
<path d="M416.4,288.5 L432.9,290.2 L416.4,291.9" fill="#b8b8b8" stroke="#222" stroke-width="0.75"/>
<path d="M416.4,293.1 L424.65,294.8 L416.4,296.5" fill="#b8b8b8" stroke="#222" stroke-width="0.75"/>
<path d="M416.4,265.3 L444.4,267.6 Q447.4,267.8 447.4,271.3 L447.4,277.4 Q447.4,280.9 444.4,281.1 L416.4,283.4" fill="#fdfdfd" stroke="#262626" stroke-width="1"/>
<circle cx="438.6" cy="273.6" r="4.2" fill="none" stroke="#333" stroke-width="0.95"/>
<rect x="423.2" y="300.5" width="27" height="5.8" fill="#f4f4f4" stroke="#333" stroke-width="0.95"/>
<path d="M425.1,306.3 L425.1,326 Q425.1,333 436,333 Q447,333 447,326 L447,306.3" fill="none" stroke="#777" stroke-width="0.6"/>
<rect x="425.1" y="306.3" width="21.9" height="30.1" fill="none" stroke="#333" stroke-width="0.95"/>
<circle cx="436.4" cy="322" r="4.4" fill="none" stroke="#333" stroke-width="0.95"/>
<path d="M423.2,336.4 L446,336.4 Q453.3,336.4 453.3,344.5 Q453.3,352.7 446,352.7 L423.2,352.7 Z" fill="#fafafa" stroke="#333" stroke-width="0.95"/>
<circle cx="445.8" cy="344.6" r="4" fill="none" stroke="#333" stroke-width="0.95"/>
<path d="M415.7,375 L415.7,356.5 Q415.7,354 418.2,354 L454.6,354 Q457.1,354 457.1,356.5 L457.1,375" fill="#f8f8f8" stroke="#333" stroke-width="1"/>
<line x1="415.7" y1="361.5" x2="457.1" y2="361.5" stroke="#444" stroke-width="0.8"/>
<line x1="411.8" y1="226" x2="411.8" y2="249" stroke="#262626" stroke-width="0.75"/>
<line x1="451.2" y1="226" x2="451.2" y2="255" stroke="#262626" stroke-width="0.75"/>
<line x1="411.8" y1="230" x2="451.2" y2="230" stroke="#262626" stroke-width="0.75"/>
<path d="M411.8,230 L416.8,228.65 L416.8,231.35 Z" fill="#262626"/>
<path d="M451.2,230 L446.2,228.65 L446.2,231.35 Z" fill="#262626"/>
<rect x="417.25" y="228.5" width="28.8" height="3" fill="url(#bg)"/>
<text transform="translate(432,232) scale(0.87,1)" text-anchor="middle" font-size="10.6" fill="#1c1c1c" stroke="#1c1c1c" stroke-width="0.42">1-7/8&quot;</text>
<text transform="translate(432,239.8) scale(0.85,1)" text-anchor="middle" font-size="10.6" fill="#1c1c1c" stroke="#1c1c1c" stroke-width="0.42">(48mm)</text>
<line x1="415.7" y1="372" x2="457.1" y2="372" stroke="#262626" stroke-width="0.75"/>
<path d="M415.7,372 L420.7,370.65 L420.7,373.35 Z" fill="#262626"/>
<path d="M457.1,372 L452.1,370.65 L452.1,373.35 Z" fill="#262626"/>
<rect x="430.65" y="370.5" width="12.6" height="3" fill="url(#bg)"/>
<text transform="translate(437.3,374.8) scale(0.91,1)" text-anchor="middle" font-size="9.6" fill="#1c1c1c" stroke="#1c1c1c" stroke-width="0.42">2&quot;</text>
<text transform="translate(437.3,383.7) scale(0.94,1)" text-anchor="middle" font-size="9.6" fill="#1c1c1c" stroke="#1c1c1c" stroke-width="0.42">(51mm)</text>
<path d="M30.6,497.6 L30.6,502.5 Q30.6,505 33.1,505 L157.4,505 Q159.9,505 159.9,502.5 L159.9,497.6" fill="none" stroke="#666" stroke-width="0.8"/>
<path d="M27.6,503 Q27.9,508.3 32.4,508.3 L158.2,508.3 Q162.7,508.3 163,503" fill="none" stroke="#333" stroke-width="1"/>
<path d="M35.51,444 L35.51,441.6 Q35.51,439.79 37.51,439.79 L154.49,439.79 Q156.49,439.79 156.49,441.6 L156.49,444" fill="#fdfdfd" stroke="#555" stroke-width="0.8"/>
<line x1="36.31" y1="441.09" x2="155.69" y2="441.09" stroke="#a0a0a0" stroke-width="0.7"/>
<path d="M32,445.9 L26.29,445.9 Q23.99,445.9 23.99,448.21 L23.99,452.01 Q23.99,454.32 26.29,454.32 L32,454.32" fill="#fdfdfd" stroke="#1e1e1e" stroke-width="1"/>
<circle cx="28.19" cy="450.11" r="1.8" fill="none" stroke="#333" stroke-width="0.9"/>
<path d="M160,445.9 L165.71,445.9 Q168.01,445.9 168.01,448.21 L168.01,452.01 Q168.01,454.32 165.71,454.32 L160,454.32" fill="#fdfdfd" stroke="#1e1e1e" stroke-width="1"/>
<circle cx="164.01" cy="450.11" r="1.8" fill="none" stroke="#333" stroke-width="0.9"/>
<path d="M32,486.98 L26.29,486.98 Q23.99,486.98 23.99,489.28 L23.99,493.09 Q23.99,495.4 26.29,495.4 L32,495.4" fill="#fdfdfd" stroke="#1e1e1e" stroke-width="1"/>
<circle cx="28.19" cy="491.19" r="1.8" fill="none" stroke="#333" stroke-width="0.9"/>
<path d="M160,486.98 L165.71,486.98 Q168.01,486.98 168.01,489.28 L168.01,493.09 Q168.01,495.4 165.71,495.4 L160,495.4" fill="#fdfdfd" stroke="#1e1e1e" stroke-width="1"/>
<circle cx="164.01" cy="491.19" r="1.8" fill="none" stroke="#333" stroke-width="0.9"/>
<rect x="32" y="444" width="128" height="53.6" fill="#fcfcfc" stroke="#1a1a1a" stroke-width="1.2"/>
<rect x="33.4" y="445.5" width="125.19" height="49.89" fill="none" stroke="#8c8c8c" stroke-width="0.95"/>
<rect x="39.31" y="498.2" width="8.42" height="2" fill="#d2d2d2" stroke="#8a8a8a" stroke-width="0.6"/>
<rect x="91.79" y="498.2" width="8.42" height="2" fill="#d2d2d2" stroke="#8a8a8a" stroke-width="0.6"/>
<rect x="144.27" y="498.2" width="8.42" height="2" fill="#d2d2d2" stroke="#8a8a8a" stroke-width="0.6"/>
<rect x="37.11" y="448.21" width="119.28" height="45.08" rx="1.5" fill="none" stroke="#777" stroke-width="1.7"/>
<rect x="38.51" y="449.51" width="115.08" height="42.18" rx="1.2" fill="none" stroke="#141414" stroke-width="1.5"/>
<line x1="38.81" y1="491.99" x2="153.29" y2="491.99" stroke="#111" stroke-width="2.1"/>
<rect x="42.42" y="453.92" width="108.26" height="34.16" fill="#fdfdfd" stroke="#121212" stroke-width="1"/>
<circle cx="45.73" cy="456.52" r="1.35" fill="#1a1a1a" stroke="none" stroke-width="0"/>
<circle cx="45.73" cy="485.18" r="1.35" fill="#1a1a1a" stroke="none" stroke-width="0"/>
<circle cx="147.08" cy="456.52" r="1.35" fill="#1a1a1a" stroke="none" stroke-width="0"/>
<circle cx="147.08" cy="485.18" r="1.35" fill="#1a1a1a" stroke="none" stroke-width="0"/>
<circle cx="53.74" cy="462.84" r="4.86" fill="#fff" stroke="#363636" stroke-width="0.85"/>
<circle cx="53.74" cy="462.84" r="3.66" fill="none" stroke="#8a8a8a" stroke-width="0.6"/>
<circle cx="53.74" cy="462.84" r="2.5" fill="#fff" stroke="#202020" stroke-width="1.05"/>
<circle cx="70.72" cy="462.84" r="4.86" fill="#fff" stroke="#363636" stroke-width="0.85"/>
<circle cx="70.72" cy="462.84" r="3.66" fill="none" stroke="#8a8a8a" stroke-width="0.6"/>
<circle cx="70.72" cy="462.84" r="2.5" fill="#fff" stroke="#202020" stroke-width="1.05"/>
<circle cx="87.71" cy="462.84" r="4.86" fill="#fff" stroke="#363636" stroke-width="0.85"/>
<circle cx="87.71" cy="462.84" r="3.66" fill="none" stroke="#8a8a8a" stroke-width="0.6"/>
<circle cx="87.71" cy="462.84" r="2.5" fill="#fff" stroke="#202020" stroke-width="1.05"/>
<circle cx="104.69" cy="462.84" r="4.86" fill="#fff" stroke="#363636" stroke-width="0.85"/>
<circle cx="104.69" cy="462.84" r="3.66" fill="none" stroke="#8a8a8a" stroke-width="0.6"/>
<circle cx="104.69" cy="462.84" r="2.5" fill="#fff" stroke="#202020" stroke-width="1.05"/>
<circle cx="121.68" cy="462.84" r="4.86" fill="#fff" stroke="#363636" stroke-width="0.85"/>
<circle cx="121.68" cy="462.84" r="3.66" fill="none" stroke="#8a8a8a" stroke-width="0.6"/>
<circle cx="121.68" cy="462.84" r="2.5" fill="#fff" stroke="#202020" stroke-width="1.05"/>
<circle cx="138.66" cy="462.84" r="4.86" fill="#fff" stroke="#363636" stroke-width="0.85"/>
<circle cx="138.66" cy="462.84" r="3.66" fill="none" stroke="#8a8a8a" stroke-width="0.6"/>
<circle cx="138.66" cy="462.84" r="2.5" fill="#fff" stroke="#202020" stroke-width="1.05"/>
<circle cx="53.74" cy="478.97" r="4.86" fill="#fff" stroke="#363636" stroke-width="0.85"/>
<circle cx="53.74" cy="478.97" r="3.66" fill="none" stroke="#8a8a8a" stroke-width="0.6"/>
<circle cx="53.74" cy="478.97" r="2.5" fill="#fff" stroke="#202020" stroke-width="1.05"/>
<circle cx="70.72" cy="478.97" r="4.86" fill="#fff" stroke="#363636" stroke-width="0.85"/>
<circle cx="70.72" cy="478.97" r="3.66" fill="none" stroke="#8a8a8a" stroke-width="0.6"/>
<circle cx="70.72" cy="478.97" r="2.5" fill="#fff" stroke="#202020" stroke-width="1.05"/>
<circle cx="87.71" cy="478.97" r="4.86" fill="#fff" stroke="#363636" stroke-width="0.85"/>
<circle cx="87.71" cy="478.97" r="3.66" fill="none" stroke="#8a8a8a" stroke-width="0.6"/>
<circle cx="87.71" cy="478.97" r="2.5" fill="#fff" stroke="#202020" stroke-width="1.05"/>
<circle cx="104.69" cy="478.97" r="4.86" fill="#fff" stroke="#363636" stroke-width="0.85"/>
<circle cx="104.69" cy="478.97" r="3.66" fill="none" stroke="#8a8a8a" stroke-width="0.6"/>
<circle cx="104.69" cy="478.97" r="2.5" fill="#fff" stroke="#202020" stroke-width="1.05"/>
<circle cx="121.68" cy="478.97" r="4.86" fill="#fff" stroke="#363636" stroke-width="0.85"/>
<circle cx="121.68" cy="478.97" r="3.66" fill="none" stroke="#8a8a8a" stroke-width="0.6"/>
<circle cx="121.68" cy="478.97" r="2.5" fill="#fff" stroke="#202020" stroke-width="1.05"/>
<circle cx="138.66" cy="478.97" r="4.86" fill="#fff" stroke="#363636" stroke-width="0.85"/>
<circle cx="138.66" cy="478.97" r="3.66" fill="none" stroke="#8a8a8a" stroke-width="0.6"/>
<circle cx="138.66" cy="478.97" r="2.5" fill="#fff" stroke="#202020" stroke-width="1.05"/>
<line x1="23" y1="419" x2="23" y2="450" stroke="#262626" stroke-width="0.75"/>
<line x1="167" y1="419" x2="167" y2="450" stroke="#262626" stroke-width="0.75"/>
<line x1="23" y1="422" x2="167" y2="422" stroke="#262626" stroke-width="0.75"/>
<path d="M23,422 L28,420.65 L28,423.35 Z" fill="#262626"/>
<path d="M167,422 L162,420.65 L162,423.35 Z" fill="#262626"/>
<rect x="79.6" y="420.5" width="28.7" height="3" fill="url(#bg)"/>
<text transform="translate(94.3,424.2) scale(0.91,1)" text-anchor="middle" font-size="10" fill="#1c1c1c" stroke="#1c1c1c" stroke-width="0.42">6-7/8&quot;</text>
<text transform="translate(94.3,432.9) scale(0.91,1)" text-anchor="middle" font-size="10" fill="#1c1c1c" stroke="#1c1c1c" stroke-width="0.42">(175mm)</text>
<line x1="27.6" y1="496" x2="27.6" y2="522" stroke="#262626" stroke-width="0.75"/>
<line x1="163" y1="496" x2="163" y2="522" stroke="#262626" stroke-width="0.75"/>
<line x1="27.6" y1="517.6" x2="163" y2="517.6" stroke="#262626" stroke-width="0.75"/>
<path d="M27.6,517.6 L32.6,516.25 L32.6,518.95 Z" fill="#262626"/>
<path d="M163,517.6 L158,516.25 L158,518.95 Z" fill="#262626"/>
<rect x="79.55" y="516.1" width="32.8" height="3" fill="url(#bg)"/>
<text transform="translate(96.3,522.2) scale(0.87,1)" text-anchor="middle" font-size="10.2" fill="#1c1c1c" stroke="#1c1c1c" stroke-width="0.42">6-7/16&quot;</text>
<text transform="translate(96.3,530.5) scale(0.88,1)" text-anchor="middle" font-size="10.2" fill="#1c1c1c" stroke="#1c1c1c" stroke-width="0.42">(164mm)</text>
<path d="M206.6,496 L206.6,501 Q206.6,503.3 209,503.3 L451.5,503.3 Q453.9,503.3 453.9,501 L453.9,496" fill="none" stroke="#666" stroke-width="0.8"/>
<path d="M204,501 Q204.3,505.9 208.5,505.9 L452,505.9 Q456.2,505.9 456.5,501" fill="none" stroke="#333" stroke-width="1"/>
<path d="M210.8,442.5 L210.8,440.1 Q210.8,438.3 212.8,438.3 L447.4,438.3 Q449.4,438.3 449.4,440.1 L449.4,442.5" fill="#fdfdfd" stroke="#555" stroke-width="0.8"/>
<line x1="211.6" y1="439.6" x2="448.6" y2="439.6" stroke="#a0a0a0" stroke-width="0.7"/>
<path d="M207.3,444.4 L201.6,444.4 Q199.3,444.4 199.3,446.7 L199.3,450.5 Q199.3,452.8 201.6,452.8 L207.3,452.8" fill="#fdfdfd" stroke="#1e1e1e" stroke-width="1"/>
<circle cx="203.5" cy="448.6" r="1.8" fill="none" stroke="#333" stroke-width="0.9"/>
<path d="M452.9,444.4 L458.6,444.4 Q460.9,444.4 460.9,446.7 L460.9,450.5 Q460.9,452.8 458.6,452.8 L452.9,452.8" fill="#fdfdfd" stroke="#1e1e1e" stroke-width="1"/>
<circle cx="456.9" cy="448.6" r="1.8" fill="none" stroke="#333" stroke-width="0.9"/>
<path d="M207.3,485.4 L201.6,485.4 Q199.3,485.4 199.3,487.7 L199.3,491.5 Q199.3,493.8 201.6,493.8 L207.3,493.8" fill="#fdfdfd" stroke="#1e1e1e" stroke-width="1"/>
<circle cx="203.5" cy="489.6" r="1.8" fill="none" stroke="#333" stroke-width="0.9"/>
<path d="M452.9,485.4 L458.6,485.4 Q460.9,485.4 460.9,487.7 L460.9,491.5 Q460.9,493.8 458.6,493.8 L452.9,493.8" fill="#fdfdfd" stroke="#1e1e1e" stroke-width="1"/>
<circle cx="456.9" cy="489.6" r="1.8" fill="none" stroke="#333" stroke-width="0.9"/>
<rect x="207.3" y="442.5" width="245.6" height="53.5" fill="#fcfcfc" stroke="#1a1a1a" stroke-width="1.2"/>
<rect x="208.7" y="444" width="242.8" height="49.8" fill="none" stroke="#8c8c8c" stroke-width="0.95"/>
<rect x="214.6" y="496.6" width="8.4" height="2" fill="#d2d2d2" stroke="#8a8a8a" stroke-width="0.6"/>
<rect x="325.9" y="496.6" width="8.4" height="2" fill="#d2d2d2" stroke="#8a8a8a" stroke-width="0.6"/>
<rect x="437.2" y="496.6" width="8.4" height="2" fill="#d2d2d2" stroke="#8a8a8a" stroke-width="0.6"/>
<rect x="212.4" y="446.7" width="236.9" height="45" rx="1.5" fill="none" stroke="#777" stroke-width="1.7"/>
<rect x="213.8" y="448" width="232.7" height="42.1" rx="1.2" fill="none" stroke="#141414" stroke-width="1.5"/>
<line x1="214.1" y1="490.4" x2="446.2" y2="490.4" stroke="#111" stroke-width="2.1"/>
<rect x="325.7" y="451.5" width="9.9" height="35" fill="#fbfbfb" stroke="#888" stroke-width="0.7"/>
<rect x="217.7" y="452.4" width="108" height="34.1" fill="#fdfdfd" stroke="#121212" stroke-width="1"/>
<circle cx="221" cy="455" r="1.35" fill="#1a1a1a" stroke="none" stroke-width="0"/>
<circle cx="221" cy="483.6" r="1.35" fill="#1a1a1a" stroke="none" stroke-width="0"/>
<circle cx="322.1" cy="455" r="1.35" fill="#1a1a1a" stroke="none" stroke-width="0"/>
<circle cx="322.1" cy="483.6" r="1.35" fill="#1a1a1a" stroke="none" stroke-width="0"/>
<circle cx="229" cy="461.3" r="4.85" fill="#fff" stroke="#363636" stroke-width="0.85"/>
<circle cx="229" cy="461.3" r="3.65" fill="none" stroke="#8a8a8a" stroke-width="0.6"/>
<circle cx="229" cy="461.3" r="2.5" fill="#fff" stroke="#202020" stroke-width="1.05"/>
<circle cx="245.94" cy="461.3" r="4.85" fill="#fff" stroke="#363636" stroke-width="0.85"/>
<circle cx="245.94" cy="461.3" r="3.65" fill="none" stroke="#8a8a8a" stroke-width="0.6"/>
<circle cx="245.94" cy="461.3" r="2.5" fill="#fff" stroke="#202020" stroke-width="1.05"/>
<circle cx="262.88" cy="461.3" r="4.85" fill="#fff" stroke="#363636" stroke-width="0.85"/>
<circle cx="262.88" cy="461.3" r="3.65" fill="none" stroke="#8a8a8a" stroke-width="0.6"/>
<circle cx="262.88" cy="461.3" r="2.5" fill="#fff" stroke="#202020" stroke-width="1.05"/>
<circle cx="279.82" cy="461.3" r="4.85" fill="#fff" stroke="#363636" stroke-width="0.85"/>
<circle cx="279.82" cy="461.3" r="3.65" fill="none" stroke="#8a8a8a" stroke-width="0.6"/>
<circle cx="279.82" cy="461.3" r="2.5" fill="#fff" stroke="#202020" stroke-width="1.05"/>
<circle cx="296.76" cy="461.3" r="4.85" fill="#fff" stroke="#363636" stroke-width="0.85"/>
<circle cx="296.76" cy="461.3" r="3.65" fill="none" stroke="#8a8a8a" stroke-width="0.6"/>
<circle cx="296.76" cy="461.3" r="2.5" fill="#fff" stroke="#202020" stroke-width="1.05"/>
<circle cx="313.7" cy="461.3" r="4.85" fill="#fff" stroke="#363636" stroke-width="0.85"/>
<circle cx="313.7" cy="461.3" r="3.65" fill="none" stroke="#8a8a8a" stroke-width="0.6"/>
<circle cx="313.7" cy="461.3" r="2.5" fill="#fff" stroke="#202020" stroke-width="1.05"/>
<circle cx="229" cy="477.4" r="4.85" fill="#fff" stroke="#363636" stroke-width="0.85"/>
<circle cx="229" cy="477.4" r="3.65" fill="none" stroke="#8a8a8a" stroke-width="0.6"/>
<circle cx="229" cy="477.4" r="2.5" fill="#fff" stroke="#202020" stroke-width="1.05"/>
<circle cx="245.94" cy="477.4" r="4.85" fill="#fff" stroke="#363636" stroke-width="0.85"/>
<circle cx="245.94" cy="477.4" r="3.65" fill="none" stroke="#8a8a8a" stroke-width="0.6"/>
<circle cx="245.94" cy="477.4" r="2.5" fill="#fff" stroke="#202020" stroke-width="1.05"/>
<circle cx="262.88" cy="477.4" r="4.85" fill="#fff" stroke="#363636" stroke-width="0.85"/>
<circle cx="262.88" cy="477.4" r="3.65" fill="none" stroke="#8a8a8a" stroke-width="0.6"/>
<circle cx="262.88" cy="477.4" r="2.5" fill="#fff" stroke="#202020" stroke-width="1.05"/>
<circle cx="279.82" cy="477.4" r="4.85" fill="#fff" stroke="#363636" stroke-width="0.85"/>
<circle cx="279.82" cy="477.4" r="3.65" fill="none" stroke="#8a8a8a" stroke-width="0.6"/>
<circle cx="279.82" cy="477.4" r="2.5" fill="#fff" stroke="#202020" stroke-width="1.05"/>
<circle cx="296.76" cy="477.4" r="4.85" fill="#fff" stroke="#363636" stroke-width="0.85"/>
<circle cx="296.76" cy="477.4" r="3.65" fill="none" stroke="#8a8a8a" stroke-width="0.6"/>
<circle cx="296.76" cy="477.4" r="2.5" fill="#fff" stroke="#202020" stroke-width="1.05"/>
<circle cx="313.7" cy="477.4" r="4.85" fill="#fff" stroke="#363636" stroke-width="0.85"/>
<circle cx="313.7" cy="477.4" r="3.65" fill="none" stroke="#8a8a8a" stroke-width="0.6"/>
<circle cx="313.7" cy="477.4" r="2.5" fill="#fff" stroke="#202020" stroke-width="1.05"/>
<rect x="335.6" y="452.4" width="108" height="34.1" fill="#fdfdfd" stroke="#121212" stroke-width="1"/>
<circle cx="338.9" cy="455" r="1.35" fill="#1a1a1a" stroke="none" stroke-width="0"/>
<circle cx="338.9" cy="483.6" r="1.35" fill="#1a1a1a" stroke="none" stroke-width="0"/>
<circle cx="440" cy="455" r="1.35" fill="#1a1a1a" stroke="none" stroke-width="0"/>
<circle cx="440" cy="483.6" r="1.35" fill="#1a1a1a" stroke="none" stroke-width="0"/>
<circle cx="346.9" cy="461.3" r="4.85" fill="#fff" stroke="#363636" stroke-width="0.85"/>
<circle cx="346.9" cy="461.3" r="3.65" fill="none" stroke="#8a8a8a" stroke-width="0.6"/>
<circle cx="346.9" cy="461.3" r="2.5" fill="#fff" stroke="#202020" stroke-width="1.05"/>
<circle cx="363.84" cy="461.3" r="4.85" fill="#fff" stroke="#363636" stroke-width="0.85"/>
<circle cx="363.84" cy="461.3" r="3.65" fill="none" stroke="#8a8a8a" stroke-width="0.6"/>
<circle cx="363.84" cy="461.3" r="2.5" fill="#fff" stroke="#202020" stroke-width="1.05"/>
<circle cx="380.78" cy="461.3" r="4.85" fill="#fff" stroke="#363636" stroke-width="0.85"/>
<circle cx="380.78" cy="461.3" r="3.65" fill="none" stroke="#8a8a8a" stroke-width="0.6"/>
<circle cx="380.78" cy="461.3" r="2.5" fill="#fff" stroke="#202020" stroke-width="1.05"/>
<circle cx="397.72" cy="461.3" r="4.85" fill="#fff" stroke="#363636" stroke-width="0.85"/>
<circle cx="397.72" cy="461.3" r="3.65" fill="none" stroke="#8a8a8a" stroke-width="0.6"/>
<circle cx="397.72" cy="461.3" r="2.5" fill="#fff" stroke="#202020" stroke-width="1.05"/>
<circle cx="414.66" cy="461.3" r="4.85" fill="#fff" stroke="#363636" stroke-width="0.85"/>
<circle cx="414.66" cy="461.3" r="3.65" fill="none" stroke="#8a8a8a" stroke-width="0.6"/>
<circle cx="414.66" cy="461.3" r="2.5" fill="#fff" stroke="#202020" stroke-width="1.05"/>
<circle cx="431.6" cy="461.3" r="4.85" fill="#fff" stroke="#363636" stroke-width="0.85"/>
<circle cx="431.6" cy="461.3" r="3.65" fill="none" stroke="#8a8a8a" stroke-width="0.6"/>
<circle cx="431.6" cy="461.3" r="2.5" fill="#fff" stroke="#202020" stroke-width="1.05"/>
<circle cx="346.9" cy="477.4" r="4.85" fill="#fff" stroke="#363636" stroke-width="0.85"/>
<circle cx="346.9" cy="477.4" r="3.65" fill="none" stroke="#8a8a8a" stroke-width="0.6"/>
<circle cx="346.9" cy="477.4" r="2.5" fill="#fff" stroke="#202020" stroke-width="1.05"/>
<circle cx="363.84" cy="477.4" r="4.85" fill="#fff" stroke="#363636" stroke-width="0.85"/>
<circle cx="363.84" cy="477.4" r="3.65" fill="none" stroke="#8a8a8a" stroke-width="0.6"/>
<circle cx="363.84" cy="477.4" r="2.5" fill="#fff" stroke="#202020" stroke-width="1.05"/>
<circle cx="380.78" cy="477.4" r="4.85" fill="#fff" stroke="#363636" stroke-width="0.85"/>
<circle cx="380.78" cy="477.4" r="3.65" fill="none" stroke="#8a8a8a" stroke-width="0.6"/>
<circle cx="380.78" cy="477.4" r="2.5" fill="#fff" stroke="#202020" stroke-width="1.05"/>
<circle cx="397.72" cy="477.4" r="4.85" fill="#fff" stroke="#363636" stroke-width="0.85"/>
<circle cx="397.72" cy="477.4" r="3.65" fill="none" stroke="#8a8a8a" stroke-width="0.6"/>
<circle cx="397.72" cy="477.4" r="2.5" fill="#fff" stroke="#202020" stroke-width="1.05"/>
<circle cx="414.66" cy="477.4" r="4.85" fill="#fff" stroke="#363636" stroke-width="0.85"/>
<circle cx="414.66" cy="477.4" r="3.65" fill="none" stroke="#8a8a8a" stroke-width="0.6"/>
<circle cx="414.66" cy="477.4" r="2.5" fill="#fff" stroke="#202020" stroke-width="1.05"/>
<circle cx="431.6" cy="477.4" r="4.85" fill="#fff" stroke="#363636" stroke-width="0.85"/>
<circle cx="431.6" cy="477.4" r="3.65" fill="none" stroke="#8a8a8a" stroke-width="0.6"/>
<circle cx="431.6" cy="477.4" r="2.5" fill="#fff" stroke="#202020" stroke-width="1.05"/>
<line x1="199.5" y1="418" x2="199.5" y2="448" stroke="#262626" stroke-width="0.75"/>
<line x1="460.3" y1="418" x2="460.3" y2="449" stroke="#262626" stroke-width="0.75"/>
<line x1="199.5" y1="420" x2="460.3" y2="420" stroke="#262626" stroke-width="0.75"/>
<path d="M199.5,420 L204.5,418.65 L204.5,421.35 Z" fill="#262626"/>
<path d="M460.3,420 L455.3,418.65 L455.3,421.35 Z" fill="#262626"/>
<rect x="313.25" y="418.5" width="33.2" height="3" fill="url(#bg)"/>
<text transform="translate(330.2,421.5) scale(0.9,1)" text-anchor="middle" font-size="10" fill="#1c1c1c" stroke="#1c1c1c" stroke-width="0.42">12-1/2&quot;</text>
<text transform="translate(330.2,429.8) scale(0.88,1)" text-anchor="middle" font-size="10" fill="#1c1c1c" stroke="#1c1c1c" stroke-width="0.42">(317mm)</text>
<line x1="204" y1="494" x2="204" y2="522" stroke="#262626" stroke-width="0.75"/>
<line x1="454.8" y1="505" x2="454.8" y2="522" stroke="#262626" stroke-width="0.75"/>
<line x1="204" y1="515.3" x2="454.8" y2="515.3" stroke="#262626" stroke-width="0.75"/>
<path d="M204,515.3 L209,513.95 L209,516.65 Z" fill="#262626"/>
<path d="M454.8,515.3 L449.8,513.95 L449.8,516.65 Z" fill="#262626"/>
<rect x="310.2" y="513.8" width="37.7" height="3" fill="url(#bg)"/>
<text transform="translate(329.4,519.5) scale(0.88,1)" text-anchor="middle" font-size="10" fill="#1c1c1c" stroke="#1c1c1c" stroke-width="0.42">12-1/16&quot;</text>
<text transform="translate(329.4,528.2) scale(0.9,1)" text-anchor="middle" font-size="10" fill="#1c1c1c" stroke="#1c1c1c" stroke-width="0.42">(306mm)</text>
<line x1="462.5" y1="438.5" x2="494" y2="438.5" stroke="#262626" stroke-width="0.75"/>
<line x1="454" y1="496.3" x2="472" y2="496.3" stroke="#262626" stroke-width="0.75"/>
<line x1="456" y1="505.3" x2="500" y2="505.3" stroke="#262626" stroke-width="0.75"/>
<line x1="469.9" y1="438.5" x2="469.9" y2="494" stroke="#262626" stroke-width="0.75"/>
<path d="M469.9,438.5 L468.55,443.5 L471.25,443.5 Z" fill="#262626"/>
<path d="M469.9,494 L468.55,489 L471.25,489 Z" fill="#262626"/>
<rect x="468.4" y="453.3" width="3" height="21.4" fill="url(#bg)"/>
<text transform="translate(475.1,462.9) scale(0.78,1)" text-anchor="middle" font-size="10" fill="#1c1c1c" stroke="#1c1c1c" stroke-width="0.42">3&quot;</text>
<text transform="translate(475.1,471.7) scale(0.88,1)" text-anchor="middle" font-size="10" fill="#1c1c1c" stroke="#1c1c1c" stroke-width="0.42">(76mm)</text>
<line x1="497.9" y1="438.5" x2="497.9" y2="505.3" stroke="#262626" stroke-width="0.75"/>
<path d="M497.9,438.5 L496.55,443.5 L499.25,443.5 Z" fill="#262626"/>
<path d="M497.9,505.3 L496.55,500.3 L499.25,500.3 Z" fill="#262626"/>
<rect x="496.4" y="468.2" width="3" height="23.2" fill="url(#bg)"/>
<text transform="translate(507,478.7) scale(0.92,1)" text-anchor="middle" font-size="10" fill="#1c1c1c" stroke="#1c1c1c" stroke-width="0.42">3-1/4&quot;</text>
<text transform="translate(507,486.6) scale(0.91,1)" text-anchor="middle" font-size="10" fill="#1c1c1c" stroke="#1c1c1c" stroke-width="0.42">(82mm)</text>
<rect x="543.9" y="441.1" width="4.7" height="54.8" rx="0.8" fill="#f2f2f2" stroke="#222" stroke-width="1"/>
<path d="M548.6,438.5 L578.9,443.8 Q583.5,444.8 583.5,448 L583.5,493.5 Q583.5,497.5 579.5,497.5 L548.6,497.5 Z" fill="#fcfcfc" stroke="#262626" stroke-width="1"/>
<path d="M548.6,443 L557.1,444.7 L548.6,446.4" fill="#b8b8b8" stroke="#222" stroke-width="0.75"/>
<path d="M548.6,447.6 L565.6,449.3 L548.6,451" fill="#b8b8b8" stroke="#222" stroke-width="0.75"/>
<path d="M548.6,452.8 L565.6,454.5 L548.6,456.2" fill="#b8b8b8" stroke="#222" stroke-width="0.75"/>
<path d="M548.6,480.8 L565.6,482.5 L548.6,484.2" fill="#b8b8b8" stroke="#222" stroke-width="0.75"/>
<path d="M548.6,485.5 L565.6,487.2 L548.6,488.9" fill="#b8b8b8" stroke="#222" stroke-width="0.75"/>
<path d="M548.6,490.1 L557.1,491.8 L548.6,493.5" fill="#b8b8b8" stroke="#222" stroke-width="0.75"/>
<path d="M562.8,505.8 L562.8,468 Q562.8,459.4 571.7,459.4 Q578,459.4 580.5,464 L588.8,491 L588.8,505.8 Z" fill="#fcfcfc" stroke="#262626" stroke-width="1"/>
<line x1="543.9" y1="417" x2="543.9" y2="525" stroke="#262626" stroke-width="0.75"/>
<line x1="583.3" y1="417" x2="583.3" y2="446" stroke="#262626" stroke-width="0.75"/>
<line x1="588.8" y1="491" x2="588.8" y2="525" stroke="#262626" stroke-width="0.75"/>
<line x1="543.9" y1="420" x2="583.3" y2="420" stroke="#262626" stroke-width="0.75"/>
<path d="M543.9,420 L548.9,418.65 L548.9,421.35 Z" fill="#262626"/>
<path d="M583.3,420 L578.3,418.65 L578.3,421.35 Z" fill="#262626"/>
<rect x="551.85" y="418.5" width="27.4" height="3" fill="url(#bg)"/>
<text transform="translate(565.9,420.8) scale(0.88,1)" text-anchor="middle" font-size="9.8" fill="#1c1c1c" stroke="#1c1c1c" stroke-width="0.42">1-7/8&quot;</text>
<text transform="translate(565.9,429.4) scale(0.91,1)" text-anchor="middle" font-size="9.8" fill="#1c1c1c" stroke="#1c1c1c" stroke-width="0.42">(48mm)</text>
<line x1="543.9" y1="516.5" x2="588.8" y2="516.5" stroke="#262626" stroke-width="0.75"/>
<path d="M543.9,516.5 L548.9,515.15 L548.9,517.85 Z" fill="#262626"/>
<path d="M588.8,516.5 L583.8,515.15 L583.8,517.85 Z" fill="#262626"/>
<rect x="551.75" y="515" width="28.6" height="3" fill="url(#bg)"/>
<text transform="translate(566.4,519.4) scale(0.91,1)" text-anchor="middle" font-size="10" fill="#1c1c1c" stroke="#1c1c1c" stroke-width="0.42">2-1/8&quot;</text>
<text transform="translate(566.4,528.7) scale(0.9,1)" text-anchor="middle" font-size="10" fill="#1c1c1c" stroke="#1c1c1c" stroke-width="0.42">(55mm)</text>
<path d="M36.4,605.4 L36.4,603 Q36.4,601.2 38.4,601.2 L154.3,601.2 Q156.3,601.2 156.3,603 L156.3,605.4" fill="#fdfdfd" stroke="#555" stroke-width="0.8"/>
<line x1="37.2" y1="602.5" x2="155.5" y2="602.5" stroke="#a0a0a0" stroke-width="0.7"/>
<path d="M32.9,607.3 L27.2,607.3 Q24.9,607.3 24.9,609.6 L24.9,613.4 Q24.9,615.7 27.2,615.7 L32.9,615.7" fill="#fdfdfd" stroke="#1e1e1e" stroke-width="1"/>
<circle cx="29.1" cy="611.5" r="1.8" fill="none" stroke="#333" stroke-width="0.9"/>
<path d="M159.8,607.3 L165.5,607.3 Q167.8,607.3 167.8,609.6 L167.8,613.4 Q167.8,615.7 165.5,615.7 L159.8,615.7" fill="#fdfdfd" stroke="#1e1e1e" stroke-width="1"/>
<circle cx="163.8" cy="611.5" r="1.8" fill="none" stroke="#333" stroke-width="0.9"/>
<path d="M32.9,648.3 L27.2,648.3 Q24.9,648.3 24.9,650.6 L24.9,654.4 Q24.9,656.7 27.2,656.7 L32.9,656.7" fill="#fdfdfd" stroke="#1e1e1e" stroke-width="1"/>
<circle cx="29.1" cy="652.5" r="1.8" fill="none" stroke="#333" stroke-width="0.9"/>
<path d="M159.8,648.3 L165.5,648.3 Q167.8,648.3 167.8,650.6 L167.8,654.4 Q167.8,656.7 165.5,656.7 L159.8,656.7" fill="#fdfdfd" stroke="#1e1e1e" stroke-width="1"/>
<circle cx="163.8" cy="652.5" r="1.8" fill="none" stroke="#333" stroke-width="0.9"/>
<rect x="32.9" y="605.4" width="126.9" height="53.5" fill="#fcfcfc" stroke="#1a1a1a" stroke-width="1.2"/>
<rect x="34.3" y="606.9" width="124.1" height="49.8" fill="none" stroke="#8c8c8c" stroke-width="0.95"/>
<rect x="40.2" y="659.5" width="8.4" height="2" fill="#d2d2d2" stroke="#8a8a8a" stroke-width="0.6"/>
<rect x="92.15" y="659.5" width="8.4" height="2" fill="#d2d2d2" stroke="#8a8a8a" stroke-width="0.6"/>
<rect x="144.1" y="659.5" width="8.4" height="2" fill="#d2d2d2" stroke="#8a8a8a" stroke-width="0.6"/>
<rect x="38" y="609.6" width="118.2" height="45" rx="1.5" fill="none" stroke="#777" stroke-width="1.7"/>
<rect x="39.4" y="610.9" width="114" height="42.1" rx="1.2" fill="none" stroke="#141414" stroke-width="1.5"/>
<line x1="39.7" y1="653.3" x2="153.1" y2="653.3" stroke="#111" stroke-width="2.1"/>
<rect x="43.3" y="615.3" width="107.2" height="34.1" fill="#fdfdfd" stroke="#121212" stroke-width="1"/>
<circle cx="46.6" cy="617.9" r="1.35" fill="#1a1a1a" stroke="none" stroke-width="0"/>
<circle cx="46.6" cy="646.5" r="1.35" fill="#1a1a1a" stroke="none" stroke-width="0"/>
<circle cx="146.9" cy="617.9" r="1.35" fill="#1a1a1a" stroke="none" stroke-width="0"/>
<circle cx="146.9" cy="646.5" r="1.35" fill="#1a1a1a" stroke="none" stroke-width="0"/>
<circle cx="54.6" cy="624.2" r="4.85" fill="#fff" stroke="#363636" stroke-width="0.85"/>
<circle cx="54.6" cy="624.2" r="3.65" fill="none" stroke="#8a8a8a" stroke-width="0.6"/>
<circle cx="54.6" cy="624.2" r="2.5" fill="#fff" stroke="#202020" stroke-width="1.05"/>
<circle cx="71.38" cy="624.2" r="4.85" fill="#fff" stroke="#363636" stroke-width="0.85"/>
<circle cx="71.38" cy="624.2" r="3.65" fill="none" stroke="#8a8a8a" stroke-width="0.6"/>
<circle cx="71.38" cy="624.2" r="2.5" fill="#fff" stroke="#202020" stroke-width="1.05"/>
<circle cx="88.16" cy="624.2" r="4.85" fill="#fff" stroke="#363636" stroke-width="0.85"/>
<circle cx="88.16" cy="624.2" r="3.65" fill="none" stroke="#8a8a8a" stroke-width="0.6"/>
<circle cx="88.16" cy="624.2" r="2.5" fill="#fff" stroke="#202020" stroke-width="1.05"/>
<circle cx="104.94" cy="624.2" r="4.85" fill="#fff" stroke="#363636" stroke-width="0.85"/>
<circle cx="104.94" cy="624.2" r="3.65" fill="none" stroke="#8a8a8a" stroke-width="0.6"/>
<circle cx="104.94" cy="624.2" r="2.5" fill="#fff" stroke="#202020" stroke-width="1.05"/>
<circle cx="121.72" cy="624.2" r="4.85" fill="#fff" stroke="#363636" stroke-width="0.85"/>
<circle cx="121.72" cy="624.2" r="3.65" fill="none" stroke="#8a8a8a" stroke-width="0.6"/>
<circle cx="121.72" cy="624.2" r="2.5" fill="#fff" stroke="#202020" stroke-width="1.05"/>
<circle cx="138.5" cy="624.2" r="4.85" fill="#fff" stroke="#363636" stroke-width="0.85"/>
<circle cx="138.5" cy="624.2" r="3.65" fill="none" stroke="#8a8a8a" stroke-width="0.6"/>
<circle cx="138.5" cy="624.2" r="2.5" fill="#fff" stroke="#202020" stroke-width="1.05"/>
<circle cx="54.6" cy="640.3" r="4.85" fill="#fff" stroke="#363636" stroke-width="0.85"/>
<circle cx="54.6" cy="640.3" r="3.65" fill="none" stroke="#8a8a8a" stroke-width="0.6"/>
<circle cx="54.6" cy="640.3" r="2.5" fill="#fff" stroke="#202020" stroke-width="1.05"/>
<circle cx="71.38" cy="640.3" r="4.85" fill="#fff" stroke="#363636" stroke-width="0.85"/>
<circle cx="71.38" cy="640.3" r="3.65" fill="none" stroke="#8a8a8a" stroke-width="0.6"/>
<circle cx="71.38" cy="640.3" r="2.5" fill="#fff" stroke="#202020" stroke-width="1.05"/>
<circle cx="88.16" cy="640.3" r="4.85" fill="#fff" stroke="#363636" stroke-width="0.85"/>
<circle cx="88.16" cy="640.3" r="3.65" fill="none" stroke="#8a8a8a" stroke-width="0.6"/>
<circle cx="88.16" cy="640.3" r="2.5" fill="#fff" stroke="#202020" stroke-width="1.05"/>
<circle cx="104.94" cy="640.3" r="4.85" fill="#fff" stroke="#363636" stroke-width="0.85"/>
<circle cx="104.94" cy="640.3" r="3.65" fill="none" stroke="#8a8a8a" stroke-width="0.6"/>
<circle cx="104.94" cy="640.3" r="2.5" fill="#fff" stroke="#202020" stroke-width="1.05"/>
<circle cx="121.72" cy="640.3" r="4.85" fill="#fff" stroke="#363636" stroke-width="0.85"/>
<circle cx="121.72" cy="640.3" r="3.65" fill="none" stroke="#8a8a8a" stroke-width="0.6"/>
<circle cx="121.72" cy="640.3" r="2.5" fill="#fff" stroke="#202020" stroke-width="1.05"/>
<circle cx="138.5" cy="640.3" r="4.85" fill="#fff" stroke="#363636" stroke-width="0.85"/>
<circle cx="138.5" cy="640.3" r="3.65" fill="none" stroke="#8a8a8a" stroke-width="0.6"/>
<circle cx="138.5" cy="640.3" r="2.5" fill="#fff" stroke="#202020" stroke-width="1.05"/>
<line x1="24.25" y1="582" x2="24.25" y2="607" stroke="#262626" stroke-width="0.75"/>
<line x1="169.5" y1="582" x2="169.5" y2="607" stroke="#262626" stroke-width="0.75"/>
<line x1="24.25" y1="583.9" x2="169.5" y2="583.9" stroke="#262626" stroke-width="0.75"/>
<path d="M24.25,583.9 L29.25,582.55 L29.25,585.25 Z" fill="#262626"/>
<path d="M169.5,583.9 L164.5,582.55 L164.5,585.25 Z" fill="#262626"/>
<rect x="80.8" y="582.4" width="29.3" height="3" fill="url(#bg)"/>
<text transform="translate(95.8,588) scale(0.94,1)" text-anchor="middle" font-size="10" fill="#1c1c1c" stroke="#1c1c1c" stroke-width="0.42">6-7/8&quot;</text>
<text transform="translate(95.8,596.6) scale(0.89,1)" text-anchor="middle" font-size="10" fill="#1c1c1c" stroke="#1c1c1c" stroke-width="0.42">(175mm)</text>
<path d="M215.65,603.3 L215.65,601 Q215.65,599.28 217.56,599.28 L442.14,599.28 Q444.05,599.28 444.05,601 L444.05,603.3" fill="#fdfdfd" stroke="#555" stroke-width="0.8"/>
<line x1="216.42" y1="600.52" x2="443.28" y2="600.52" stroke="#a0a0a0" stroke-width="0.7"/>
<path d="M212.3,605.12 L206.85,605.12 Q204.64,605.12 204.64,607.32 L204.64,610.96 Q204.64,613.16 206.85,613.16 L212.3,613.16" fill="#fdfdfd" stroke="#1e1e1e" stroke-width="1"/>
<circle cx="208.66" cy="609.14" r="1.72" fill="none" stroke="#333" stroke-width="0.9"/>
<path d="M447.4,605.12 L452.85,605.12 Q455.06,605.12 455.06,607.32 L455.06,610.96 Q455.06,613.16 452.85,613.16 L447.4,613.16" fill="#fdfdfd" stroke="#1e1e1e" stroke-width="1"/>
<circle cx="451.23" cy="609.14" r="1.72" fill="none" stroke="#333" stroke-width="0.9"/>
<path d="M212.3,644.36 L206.85,644.36 Q204.64,644.36 204.64,646.56 L204.64,650.19 Q204.64,652.39 206.85,652.39 L212.3,652.39" fill="#fdfdfd" stroke="#1e1e1e" stroke-width="1"/>
<circle cx="208.66" cy="648.38" r="1.72" fill="none" stroke="#333" stroke-width="0.9"/>
<path d="M447.4,644.36 L452.85,644.36 Q455.06,644.36 455.06,646.56 L455.06,650.19 Q455.06,652.39 452.85,652.39 L447.4,652.39" fill="#fdfdfd" stroke="#1e1e1e" stroke-width="1"/>
<circle cx="451.23" cy="648.38" r="1.72" fill="none" stroke="#333" stroke-width="0.9"/>
<rect x="212.3" y="603.3" width="235.1" height="51.2" fill="#fcfcfc" stroke="#1a1a1a" stroke-width="1.2"/>
<rect x="213.64" y="604.74" width="232.42" height="47.66" fill="none" stroke="#8c8c8c" stroke-width="0.95"/>
<rect x="219.29" y="655.1" width="8.04" height="1.89" fill="#d2d2d2" stroke="#8a8a8a" stroke-width="0.6"/>
<rect x="325.83" y="655.1" width="8.04" height="1.89" fill="#d2d2d2" stroke="#8a8a8a" stroke-width="0.6"/>
<rect x="432.37" y="655.1" width="8.04" height="1.89" fill="#d2d2d2" stroke="#8a8a8a" stroke-width="0.6"/>
<rect x="217.18" y="607.32" width="226.77" height="43.07" rx="1.44" fill="none" stroke="#777" stroke-width="1.63"/>
<rect x="218.52" y="608.56" width="222.75" height="40.29" rx="1.15" fill="none" stroke="#141414" stroke-width="1.44"/>
<line x1="218.81" y1="649.14" x2="440.99" y2="649.14" stroke="#111" stroke-width="2.01"/>
<rect x="325.64" y="611.91" width="9.47" height="33.5" fill="#fbfbfb" stroke="#888" stroke-width="0.7"/>
<rect x="222.25" y="612.77" width="103.39" height="32.63" fill="#fdfdfd" stroke="#121212" stroke-width="1"/>
<circle cx="225.41" cy="615.26" r="1.29" fill="#1a1a1a" stroke="none" stroke-width="0"/>
<circle cx="225.41" cy="642.63" r="1.29" fill="#1a1a1a" stroke="none" stroke-width="0"/>
<circle cx="322.19" cy="615.26" r="1.29" fill="#1a1a1a" stroke="none" stroke-width="0"/>
<circle cx="322.19" cy="642.63" r="1.29" fill="#1a1a1a" stroke="none" stroke-width="0"/>
<circle cx="233.07" cy="621.29" r="4.64" fill="#fff" stroke="#363636" stroke-width="0.81"/>
<circle cx="233.07" cy="621.29" r="3.49" fill="none" stroke="#8a8a8a" stroke-width="0.57"/>
<circle cx="233.07" cy="621.29" r="2.39" fill="#fff" stroke="#202020" stroke-width="1"/>
<circle cx="249.28" cy="621.29" r="4.64" fill="#fff" stroke="#363636" stroke-width="0.81"/>
<circle cx="249.28" cy="621.29" r="3.49" fill="none" stroke="#8a8a8a" stroke-width="0.57"/>
<circle cx="249.28" cy="621.29" r="2.39" fill="#fff" stroke="#202020" stroke-width="1"/>
<circle cx="265.5" cy="621.29" r="4.64" fill="#fff" stroke="#363636" stroke-width="0.81"/>
<circle cx="265.5" cy="621.29" r="3.49" fill="none" stroke="#8a8a8a" stroke-width="0.57"/>
<circle cx="265.5" cy="621.29" r="2.39" fill="#fff" stroke="#202020" stroke-width="1"/>
<circle cx="281.72" cy="621.29" r="4.64" fill="#fff" stroke="#363636" stroke-width="0.81"/>
<circle cx="281.72" cy="621.29" r="3.49" fill="none" stroke="#8a8a8a" stroke-width="0.57"/>
<circle cx="281.72" cy="621.29" r="2.39" fill="#fff" stroke="#202020" stroke-width="1"/>
<circle cx="297.94" cy="621.29" r="4.64" fill="#fff" stroke="#363636" stroke-width="0.81"/>
<circle cx="297.94" cy="621.29" r="3.49" fill="none" stroke="#8a8a8a" stroke-width="0.57"/>
<circle cx="297.94" cy="621.29" r="2.39" fill="#fff" stroke="#202020" stroke-width="1"/>
<circle cx="314.16" cy="621.29" r="4.64" fill="#fff" stroke="#363636" stroke-width="0.81"/>
<circle cx="314.16" cy="621.29" r="3.49" fill="none" stroke="#8a8a8a" stroke-width="0.57"/>
<circle cx="314.16" cy="621.29" r="2.39" fill="#fff" stroke="#202020" stroke-width="1"/>
<circle cx="233.07" cy="636.7" r="4.64" fill="#fff" stroke="#363636" stroke-width="0.81"/>
<circle cx="233.07" cy="636.7" r="3.49" fill="none" stroke="#8a8a8a" stroke-width="0.57"/>
<circle cx="233.07" cy="636.7" r="2.39" fill="#fff" stroke="#202020" stroke-width="1"/>
<circle cx="249.28" cy="636.7" r="4.64" fill="#fff" stroke="#363636" stroke-width="0.81"/>
<circle cx="249.28" cy="636.7" r="3.49" fill="none" stroke="#8a8a8a" stroke-width="0.57"/>
<circle cx="249.28" cy="636.7" r="2.39" fill="#fff" stroke="#202020" stroke-width="1"/>
<circle cx="265.5" cy="636.7" r="4.64" fill="#fff" stroke="#363636" stroke-width="0.81"/>
<circle cx="265.5" cy="636.7" r="3.49" fill="none" stroke="#8a8a8a" stroke-width="0.57"/>
<circle cx="265.5" cy="636.7" r="2.39" fill="#fff" stroke="#202020" stroke-width="1"/>
<circle cx="281.72" cy="636.7" r="4.64" fill="#fff" stroke="#363636" stroke-width="0.81"/>
<circle cx="281.72" cy="636.7" r="3.49" fill="none" stroke="#8a8a8a" stroke-width="0.57"/>
<circle cx="281.72" cy="636.7" r="2.39" fill="#fff" stroke="#202020" stroke-width="1"/>
<circle cx="297.94" cy="636.7" r="4.64" fill="#fff" stroke="#363636" stroke-width="0.81"/>
<circle cx="297.94" cy="636.7" r="3.49" fill="none" stroke="#8a8a8a" stroke-width="0.57"/>
<circle cx="297.94" cy="636.7" r="2.39" fill="#fff" stroke="#202020" stroke-width="1"/>
<circle cx="314.16" cy="636.7" r="4.64" fill="#fff" stroke="#363636" stroke-width="0.81"/>
<circle cx="314.16" cy="636.7" r="3.49" fill="none" stroke="#8a8a8a" stroke-width="0.57"/>
<circle cx="314.16" cy="636.7" r="2.39" fill="#fff" stroke="#202020" stroke-width="1"/>
<rect x="335.11" y="612.77" width="103.39" height="32.63" fill="#fdfdfd" stroke="#121212" stroke-width="1"/>
<circle cx="338.27" cy="615.26" r="1.29" fill="#1a1a1a" stroke="none" stroke-width="0"/>
<circle cx="338.27" cy="642.63" r="1.29" fill="#1a1a1a" stroke="none" stroke-width="0"/>
<circle cx="435.05" cy="615.26" r="1.29" fill="#1a1a1a" stroke="none" stroke-width="0"/>
<circle cx="435.05" cy="642.63" r="1.29" fill="#1a1a1a" stroke="none" stroke-width="0"/>
<circle cx="345.93" cy="621.29" r="4.64" fill="#fff" stroke="#363636" stroke-width="0.81"/>
<circle cx="345.93" cy="621.29" r="3.49" fill="none" stroke="#8a8a8a" stroke-width="0.57"/>
<circle cx="345.93" cy="621.29" r="2.39" fill="#fff" stroke="#202020" stroke-width="1"/>
<circle cx="362.15" cy="621.29" r="4.64" fill="#fff" stroke="#363636" stroke-width="0.81"/>
<circle cx="362.15" cy="621.29" r="3.49" fill="none" stroke="#8a8a8a" stroke-width="0.57"/>
<circle cx="362.15" cy="621.29" r="2.39" fill="#fff" stroke="#202020" stroke-width="1"/>
<circle cx="378.36" cy="621.29" r="4.64" fill="#fff" stroke="#363636" stroke-width="0.81"/>
<circle cx="378.36" cy="621.29" r="3.49" fill="none" stroke="#8a8a8a" stroke-width="0.57"/>
<circle cx="378.36" cy="621.29" r="2.39" fill="#fff" stroke="#202020" stroke-width="1"/>
<circle cx="394.58" cy="621.29" r="4.64" fill="#fff" stroke="#363636" stroke-width="0.81"/>
<circle cx="394.58" cy="621.29" r="3.49" fill="none" stroke="#8a8a8a" stroke-width="0.57"/>
<circle cx="394.58" cy="621.29" r="2.39" fill="#fff" stroke="#202020" stroke-width="1"/>
<circle cx="410.8" cy="621.29" r="4.64" fill="#fff" stroke="#363636" stroke-width="0.81"/>
<circle cx="410.8" cy="621.29" r="3.49" fill="none" stroke="#8a8a8a" stroke-width="0.57"/>
<circle cx="410.8" cy="621.29" r="2.39" fill="#fff" stroke="#202020" stroke-width="1"/>
<circle cx="427.02" cy="621.29" r="4.64" fill="#fff" stroke="#363636" stroke-width="0.81"/>
<circle cx="427.02" cy="621.29" r="3.49" fill="none" stroke="#8a8a8a" stroke-width="0.57"/>
<circle cx="427.02" cy="621.29" r="2.39" fill="#fff" stroke="#202020" stroke-width="1"/>
<circle cx="345.93" cy="636.7" r="4.64" fill="#fff" stroke="#363636" stroke-width="0.81"/>
<circle cx="345.93" cy="636.7" r="3.49" fill="none" stroke="#8a8a8a" stroke-width="0.57"/>
<circle cx="345.93" cy="636.7" r="2.39" fill="#fff" stroke="#202020" stroke-width="1"/>
<circle cx="362.15" cy="636.7" r="4.64" fill="#fff" stroke="#363636" stroke-width="0.81"/>
<circle cx="362.15" cy="636.7" r="3.49" fill="none" stroke="#8a8a8a" stroke-width="0.57"/>
<circle cx="362.15" cy="636.7" r="2.39" fill="#fff" stroke="#202020" stroke-width="1"/>
<circle cx="378.36" cy="636.7" r="4.64" fill="#fff" stroke="#363636" stroke-width="0.81"/>
<circle cx="378.36" cy="636.7" r="3.49" fill="none" stroke="#8a8a8a" stroke-width="0.57"/>
<circle cx="378.36" cy="636.7" r="2.39" fill="#fff" stroke="#202020" stroke-width="1"/>
<circle cx="394.58" cy="636.7" r="4.64" fill="#fff" stroke="#363636" stroke-width="0.81"/>
<circle cx="394.58" cy="636.7" r="3.49" fill="none" stroke="#8a8a8a" stroke-width="0.57"/>
<circle cx="394.58" cy="636.7" r="2.39" fill="#fff" stroke="#202020" stroke-width="1"/>
<circle cx="410.8" cy="636.7" r="4.64" fill="#fff" stroke="#363636" stroke-width="0.81"/>
<circle cx="410.8" cy="636.7" r="3.49" fill="none" stroke="#8a8a8a" stroke-width="0.57"/>
<circle cx="410.8" cy="636.7" r="2.39" fill="#fff" stroke="#202020" stroke-width="1"/>
<circle cx="427.02" cy="636.7" r="4.64" fill="#fff" stroke="#363636" stroke-width="0.81"/>
<circle cx="427.02" cy="636.7" r="3.49" fill="none" stroke="#8a8a8a" stroke-width="0.57"/>
<circle cx="427.02" cy="636.7" r="2.39" fill="#fff" stroke="#202020" stroke-width="1"/>
<line x1="202.6" y1="579" x2="202.6" y2="605" stroke="#262626" stroke-width="0.75"/>
<line x1="463" y1="578" x2="463" y2="604" stroke="#262626" stroke-width="0.75"/>
<line x1="202.6" y1="580.4" x2="463" y2="580.4" stroke="#262626" stroke-width="0.75"/>
<path d="M202.6,580.4 L207.6,579.05 L207.6,581.75 Z" fill="#262626"/>
<path d="M463,580.4 L458,579.05 L458,581.75 Z" fill="#262626"/>
<rect x="316.55" y="578.9" width="33.2" height="3" fill="url(#bg)"/>
<text transform="translate(333.5,583.75) scale(0.9,1)" text-anchor="middle" font-size="10" fill="#1c1c1c" stroke="#1c1c1c" stroke-width="0.42">12-1/2&quot;</text>
<text transform="translate(333.5,592.2) scale(0.91,1)" text-anchor="middle" font-size="10" fill="#1c1c1c" stroke="#1c1c1c" stroke-width="0.42">(317mm)</text>
<line x1="448.8" y1="599" x2="483" y2="599" stroke="#262626" stroke-width="0.75"/>
<line x1="455.6" y1="654.9" x2="483" y2="654.9" stroke="#262626" stroke-width="0.75"/>
<line x1="476.9" y1="599.5" x2="476.9" y2="654.9" stroke="#262626" stroke-width="0.75"/>
<path d="M476.9,599.5 L475.55,604.5 L478.25,604.5 Z" fill="#262626"/>
<path d="M476.9,654.9 L475.55,649.9 L478.25,649.9 Z" fill="#262626"/>
<rect x="475.4" y="615" width="3" height="19.9" fill="url(#bg)"/>
<text transform="translate(479.1,623.3) scale(0.83,1)" text-anchor="middle" font-size="10" fill="#1c1c1c" stroke="#1c1c1c" stroke-width="0.42">3&quot;</text>
<text transform="translate(479.1,632.2) scale(0.91,1)" text-anchor="middle" font-size="10" fill="#1c1c1c" stroke="#1c1c1c" stroke-width="0.42">(76mm)</text>
<rect x="520.7" y="603.8" width="4.6" height="51.6" rx="0.8" fill="#f2f2f2" stroke="#222" stroke-width="1"/>
<path d="M525.3,601.2 L554.3,604.8 Q558.9,605.8 558.9,609.5 L558.9,653 Q558.9,657 554.9,657 L525.3,657 Z" fill="#fcfcfc" stroke="#262626" stroke-width="1"/>
<path d="M525.3,605.7 L533.6,607.4 L525.3,609.1" fill="#b8b8b8" stroke="#222" stroke-width="0.75"/>
<path d="M525.3,610.3 L541.9,612 L525.3,613.7" fill="#b8b8b8" stroke="#222" stroke-width="0.75"/>
<path d="M525.3,615.5 L541.9,617.2 L525.3,618.9" fill="#b8b8b8" stroke="#222" stroke-width="0.75"/>
<path d="M525.3,640.3 L541.9,642 L525.3,643.7" fill="#b8b8b8" stroke="#222" stroke-width="0.75"/>
<path d="M525.3,645 L541.9,646.7 L525.3,648.4" fill="#b8b8b8" stroke="#222" stroke-width="0.75"/>
<path d="M525.3,649.6 L533.6,651.3 L525.3,653" fill="#b8b8b8" stroke="#222" stroke-width="0.75"/>
<path d="M525.3,619.3 L552.8,621.6 Q555.8,621.8 555.8,625.3 L555.8,631.9 Q555.8,635.4 552.8,635.6 L525.3,637.9" fill="#fdfdfd" stroke="#262626" stroke-width="1"/>
<circle cx="547.5" cy="628.6" r="4.2" fill="none" stroke="#333" stroke-width="0.95"/>
<line x1="521.25" y1="583" x2="521.25" y2="604" stroke="#262626" stroke-width="0.75"/>
<line x1="559.5" y1="583" x2="559.5" y2="609" stroke="#262626" stroke-width="0.75"/>
<line x1="521.25" y1="585.9" x2="559.5" y2="585.9" stroke="#262626" stroke-width="0.75"/>
<path d="M521.25,585.9 L526.25,584.55 L526.25,587.25 Z" fill="#262626"/>
<path d="M559.5,585.9 L554.5,584.55 L554.5,587.25 Z" fill="#262626"/>
<rect x="526.3" y="584.4" width="27.5" height="3" fill="url(#bg)"/>
<text transform="translate(540.4,588) scale(0.87,1)" text-anchor="middle" font-size="10" fill="#1c1c1c" stroke="#1c1c1c" stroke-width="0.42">1-7/8&quot;</text>
<text transform="translate(540.4,596.3) scale(0.91,1)" text-anchor="middle" font-size="10" fill="#1c1c1c" stroke="#1c1c1c" stroke-width="0.42">(48mm)</text>
</g></svg>
</body></html>
